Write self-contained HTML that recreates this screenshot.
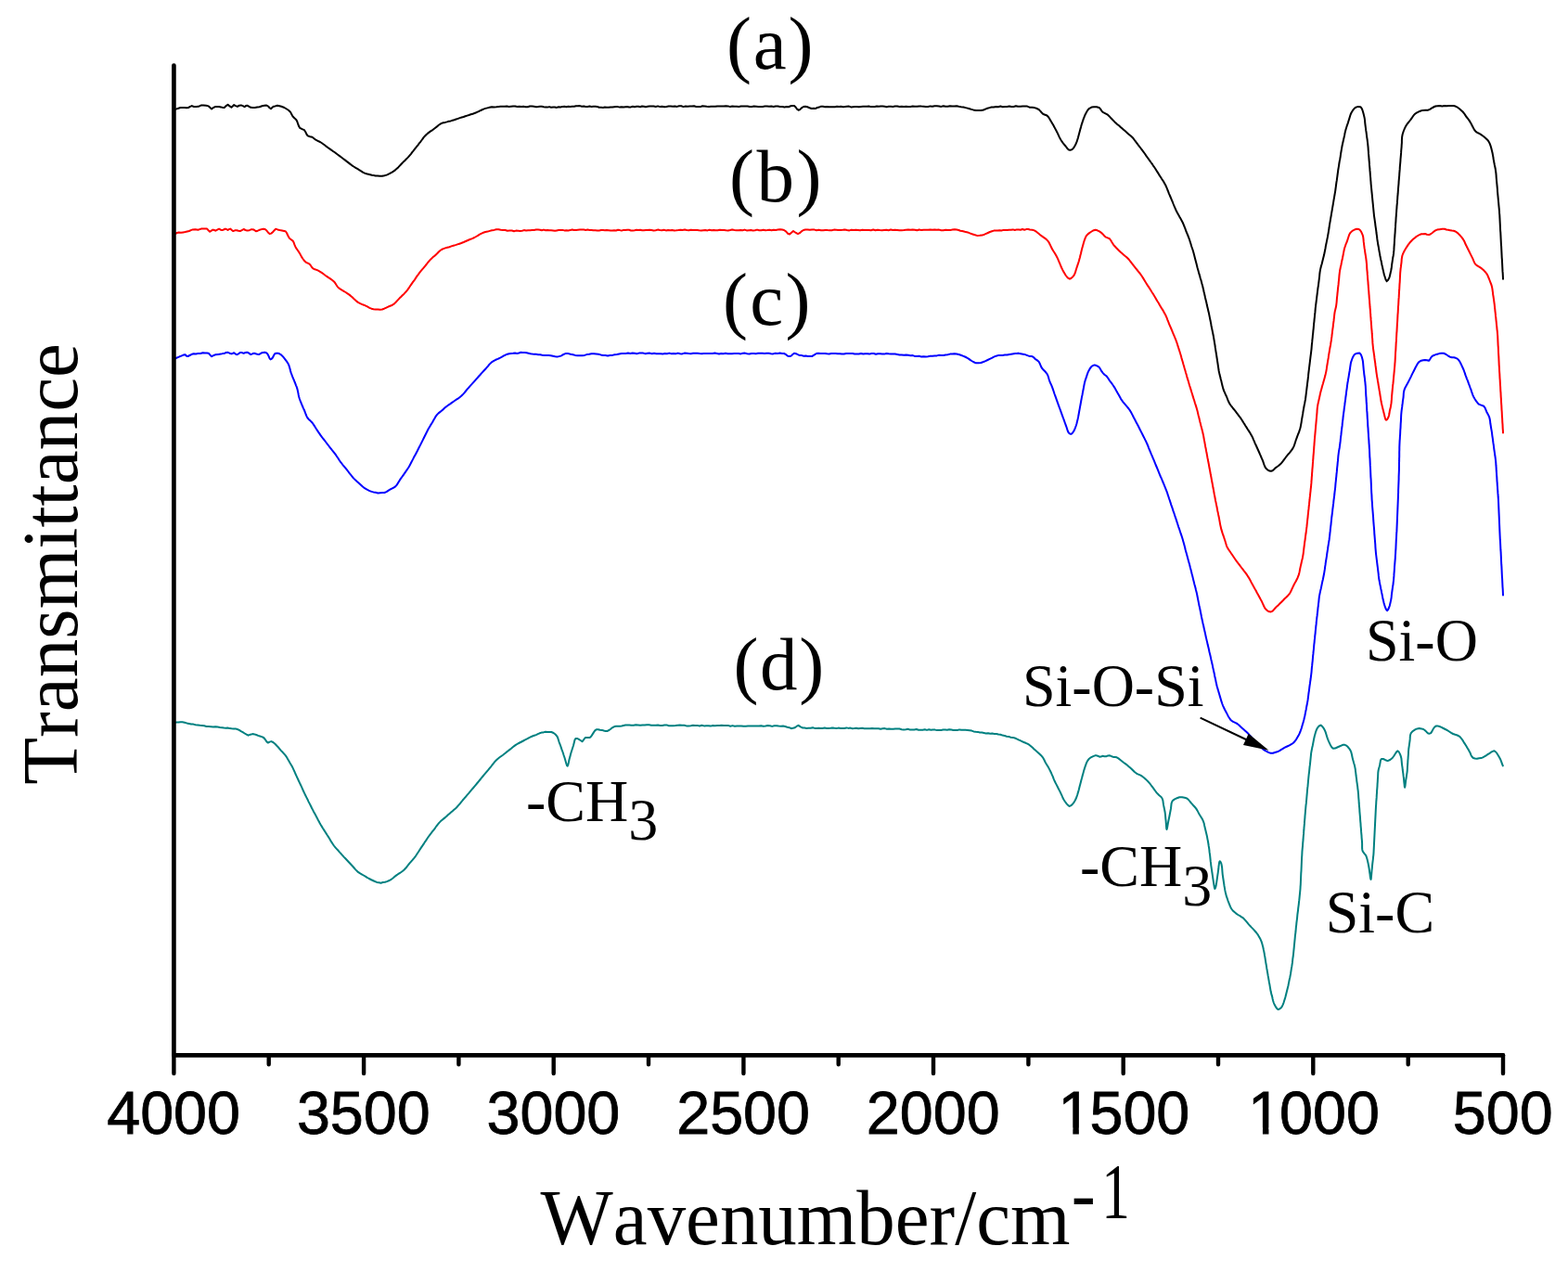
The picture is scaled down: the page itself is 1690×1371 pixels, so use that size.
<!DOCTYPE html>
<html><head><meta charset="utf-8"><title>FTIR spectra</title>
<style>html,body{margin:0;padding:0;background:#fff;}body{width:1690px;height:1371px;overflow:hidden;}svg{display:block;}text{font-kerning:none;}</style>
</head><body>
<svg width="1690" height="1371" viewBox="0 0 1690 1371">
<rect width="1690" height="1371" fill="#fff"/>
<polyline fill="none" stroke="#000" stroke-width="2.0" stroke-linejoin="round" stroke-linecap="round" points="188.3,118.0 190.3,117.4 192.3,116.7 194.5,116.0 196.6,116.0 198.9,116.0 201.1,116.2 203.0,116.0 205.0,114.9 206.8,114.1 209.0,115.0 211.5,115.0 213.9,114.8 216.6,113.6 219.1,113.4 222.1,113.7 224.8,114.4 226.5,116.0 228.1,117.4 229.7,116.2 231.4,115.3 232.8,114.9 234.2,115.1 236.1,115.0 238.0,115.4 239.9,115.9 241.8,115.9 243.7,114.1 245.6,112.7 247.5,114.4 249.4,115.7 250.8,114.4 252.2,113.1 254.0,114.1 256.0,114.9 257.9,113.7 259.8,113.4 261.7,114.2 263.6,115.2 265.0,114.0 266.4,113.7 268.1,114.6 270.2,115.8 272.3,116.0 274.7,116.1 277.3,115.6 279.7,115.3 282.4,114.3 284.9,113.8 287.2,113.5 289.0,114.5 290.6,116.2 292.0,117.3 293.3,116.1 294.8,114.7 296.6,114.4 298.9,113.8 301.2,114.2 303.3,114.8 305.8,115.7 308.1,117.0 310.6,118.5 312.8,120.4 314.2,123.0 315.6,125.6 317.5,127.4 319.4,129.3 320.4,131.3 321.2,133.7 322.1,136.1 323.2,137.9 325.6,139.1 328.0,140.2 329.3,142.2 330.4,144.6 331.7,146.4 334.1,147.2 336.5,147.8 338.4,149.2 340.3,150.7 342.5,151.8 345.0,153.0 346.6,154.0 348.3,155.2 350.1,156.5 351.8,157.9 353.6,159.2 355.3,160.4 357.0,161.6 358.7,162.8 360.5,164.0 362.2,165.3 364.1,166.7 366.0,168.1 367.9,169.5 369.8,171.0 371.7,172.4 373.6,173.9 375.6,175.4 377.5,176.9 379.4,178.3 381.2,179.5 383.3,180.8 385.2,181.9 387.1,183.1 389.1,184.3 391.0,185.6 393.0,186.6 394.9,187.3 396.9,187.7 398.9,188.2 400.8,188.7 402.7,189.1 404.8,189.5 406.9,189.5 409.4,189.8 411.9,189.7 414.4,189.2 416.7,188.6 418.8,187.7 420.7,186.7 422.6,185.6 424.5,184.4 426.2,183.1 427.7,181.8 429.2,180.4 430.6,178.9 431.9,177.5 433.3,176.0 434.7,174.6 436.2,173.2 437.6,171.8 439.0,170.4 440.4,168.9 441.7,167.4 443.0,165.8 444.2,164.2 445.5,162.6 446.7,161.0 448.0,159.4 449.2,157.8 450.5,156.3 451.7,154.7 453.0,153.1 454.2,151.5 455.4,149.9 456.6,148.2 457.9,146.7 459.3,145.2 460.8,143.9 462.5,142.6 464.2,141.4 465.9,140.3 467.6,139.1 469.3,137.7 471.0,136.4 472.6,135.0 474.3,133.8 475.9,132.9 477.9,132.3 479.8,131.9 481.8,131.4 483.7,130.8 485.7,130.4 487.7,129.8 489.6,129.2 491.6,128.5 493.6,127.9 495.6,127.1 497.6,126.5 499.6,126.0 501.5,125.3 503.5,124.6 505.5,124.0 507.5,123.3 509.5,122.7 511.4,122.0 513.4,121.2 515.4,120.3 517.3,119.4 519.2,118.5 521.1,117.6 523.2,116.9 525.3,116.4 527.6,115.8 530.1,115.2 532.6,115.4 535.0,115.3 537.3,115.0 539.5,114.8 541.8,114.7 544.0,114.7 546.2,114.6 548.5,115.1 550.8,114.8 553.0,114.6 555.2,114.5 557.5,115.0 559.8,114.7 562.0,114.9 564.2,114.7 566.5,115.2 568.8,115.3 571.0,114.5 573.3,114.6 575.5,114.7 577.8,115.3 580.0,115.1 582.0,114.8 584.0,114.8 586.0,115.2 588.0,115.4 590.0,115.6 592.0,115.1 594.0,115.7 596.1,115.6 598.1,115.5 600.0,115.9 602.1,115.2 604.2,115.5 606.3,114.9 608.3,114.8 610.4,115.3 612.5,114.7 614.6,115.0 616.7,114.8 618.8,114.8 620.8,114.3 622.9,114.2 625.0,114.1 627.1,114.7 629.2,114.5 631.3,115.0 633.3,115.0 635.4,114.6 637.5,115.0 639.6,114.7 641.7,114.8 643.7,115.0 645.8,115.7 647.9,115.8 650.0,115.9 651.9,115.5 653.9,115.7 656.0,115.8 658.0,115.4 660.0,115.5 662.0,115.2 664.0,115.0 666.0,115.1 668.0,115.6 670.0,115.3 672.0,115.6 674.0,115.2 676.0,115.0 678.0,115.4 680.0,115.4 682.0,114.7 684.0,115.2 686.0,114.7 688.0,114.7 690.0,115.3 692.0,114.5 694.0,114.7 696.0,115.3 698.0,114.8 700.0,114.5 702.2,114.5 704.5,114.5 706.8,115.0 709.1,114.4 711.4,115.1 713.7,114.7 716.0,115.2 718.3,115.1 720.6,114.6 722.9,114.5 725.1,114.7 727.4,114.4 729.7,114.9 732.0,114.3 734.3,114.3 736.6,115.1 738.9,114.5 741.1,114.8 743.4,114.6 745.7,114.5 748.0,114.3 750.3,115.0 752.6,115.1 754.9,115.1 757.1,114.3 759.4,114.4 761.7,114.8 764.0,115.1 766.3,114.7 768.6,114.8 770.9,114.8 773.1,114.4 775.4,114.6 777.7,114.4 780.0,114.4 782.3,114.2 784.7,114.4 787.0,115.1 789.3,114.6 791.7,114.8 794.0,114.8 796.3,115.1 798.7,114.6 801.0,114.5 803.3,114.6 805.7,114.6 808.0,115.1 810.3,115.1 812.7,114.6 815.0,114.7 817.3,114.9 819.7,114.9 822.0,114.9 824.3,114.6 826.7,114.4 829.0,114.7 831.3,114.5 833.7,115.0 836.0,114.5 838.3,114.6 840.7,115.1 843.2,114.9 845.6,115.4 847.9,115.1 850.0,115.2 852.2,114.3 854.2,114.0 856.0,114.0 857.6,115.5 859.1,117.7 860.6,118.7 862.2,118.1 864.0,116.3 866.0,115.0 867.9,114.8 870.2,115.3 872.5,116.2 874.8,117.0 877.0,116.8 879.1,116.9 881.0,116.0 882.9,115.6 885.0,114.7 887.0,114.7 889.2,115.2 891.3,115.1 893.5,115.3 895.7,115.3 897.9,115.2 900.0,115.2 902.1,114.7 904.3,114.9 906.4,114.7 908.6,115.2 910.7,115.1 912.9,114.7 915.0,114.6 917.1,115.4 919.3,115.2 921.4,115.0 923.6,115.0 925.7,115.3 927.9,114.9 930.0,114.8 932.1,114.8 934.3,114.7 936.4,114.5 938.6,115.1 940.7,114.9 942.9,115.0 945.0,114.5 947.1,114.8 949.3,114.6 951.4,114.6 953.5,114.7 955.7,115.2 957.8,114.8 960.0,114.8 962.3,115.0 964.7,114.6 967.1,114.4 969.5,114.9 971.8,114.8 974.2,114.9 976.6,114.7 978.9,114.9 981.3,115.0 983.7,114.5 986.0,114.7 988.4,114.7 990.8,114.4 993.1,114.6 995.5,114.7 997.9,115.0 1000.2,115.0 1002.6,114.4 1005.0,114.7 1007.3,114.2 1009.7,114.2 1012.1,114.5 1014.4,114.9 1016.8,114.2 1019.2,114.7 1021.5,114.8 1023.9,114.2 1026.3,114.4 1028.6,114.6 1031.0,114.3 1033.4,114.8 1035.9,115.2 1038.4,115.5 1040.7,116.1 1042.8,116.6 1045.0,117.3 1047.0,117.9 1049.0,118.4 1051.9,118.9 1054.7,119.1 1057.3,119.1 1060.0,118.5 1062.0,117.6 1064.2,116.8 1066.5,116.1 1068.6,115.5 1071.0,115.4 1073.5,114.9 1076.0,115.2 1078.3,114.5 1080.7,115.2 1083.1,115.0 1085.4,114.9 1087.8,114.5 1090.1,115.0 1092.5,115.0 1094.9,114.3 1097.2,114.8 1099.7,114.7 1102.3,114.5 1104.7,114.4 1106.7,114.4 1108.4,115.1 1110.0,115.7 1112.3,115.7 1114.8,116.1 1117.2,116.8 1119.6,118.0 1121.2,119.6 1122.8,121.5 1124.4,123.0 1126.4,123.7 1128.4,124.5 1129.6,125.7 1130.8,127.3 1131.9,129.2 1133.0,131.1 1134.1,132.9 1135.1,134.6 1136.1,136.4 1137.0,138.1 1138.0,139.9 1138.9,141.7 1139.9,143.6 1140.8,145.6 1141.7,147.6 1142.7,149.5 1143.7,151.3 1145.3,153.6 1146.9,155.6 1148.5,157.5 1150.3,159.9 1152.0,161.5 1153.3,161.8 1154.5,161.6 1155.5,161.0 1156.5,160.2 1157.5,158.9 1158.6,157.1 1159.6,155.0 1160.5,152.9 1161.2,150.8 1161.9,148.6 1162.5,146.3 1163.1,144.0 1163.7,141.7 1164.3,139.4 1165.0,137.1 1165.6,134.8 1166.3,132.6 1167.0,130.5 1167.7,128.4 1168.5,126.3 1169.3,124.3 1170.2,122.5 1171.4,120.3 1172.7,118.3 1174.2,116.8 1176.5,115.6 1179.0,115.2 1181.9,115.2 1184.6,116.0 1186.0,117.4 1187.2,119.3 1188.6,120.9 1191.0,122.1 1193.4,123.3 1195.5,125.2 1197.4,127.3 1199.9,129.9 1201.4,131.4 1201.4,131.4 1201.4,131.4 1202.3,132.2 1204.2,133.9 1206.2,135.6 1207.7,136.9 1209.3,138.3 1210.9,139.7 1212.5,141.1 1214.1,142.5 1215.7,143.9 1217.2,145.2 1218.8,146.5 1220.4,148.0 1221.9,149.7 1223.3,151.7 1224.8,153.7 1226.3,155.7 1227.8,157.6 1229.3,159.5 1230.7,161.4 1232.2,163.4 1233.4,165.0 1234.6,166.7 1235.7,168.4 1236.9,170.0 1238.1,171.7 1239.3,173.3 1240.5,175.0 1241.7,176.6 1242.8,178.3 1244.0,180.0 1245.2,181.8 1246.4,183.7 1247.6,185.6 1248.8,187.5 1249.9,189.4 1251.2,191.3 1252.4,193.2 1253.7,195.1 1254.8,197.0 1255.9,198.9 1256.8,200.8 1257.6,202.6 1258.3,204.5 1259.1,206.4 1259.8,208.3 1260.6,210.1 1261.4,212.0 1262.2,213.9 1263.0,215.8 1263.8,217.6 1264.5,219.5 1265.3,221.5 1266.1,223.4 1266.9,225.2 1267.7,227.0 1268.9,229.3 1270.1,231.4 1271.2,233.5 1272.4,235.6 1273.6,237.7 1274.8,240.0 1275.7,242.1 1276.6,244.4 1277.5,246.7 1278.3,249.0 1279.3,251.3 1280.2,253.5 1281.1,255.8 1281.9,258.0 1282.7,260.5 1283.5,263.0 1284.2,265.5 1285.1,268.0 1285.9,270.5 1286.6,273.0 1287.2,275.3 1287.8,277.7 1288.4,280.0 1289.0,282.3 1289.6,284.6 1290.2,287.0 1290.7,289.0 1291.3,291.1 1291.9,293.2 1292.5,295.4 1293.2,297.6 1293.7,299.7 1294.4,301.8 1295.0,303.9 1295.5,306.0 1296.1,308.1 1296.6,310.2 1297.1,312.2 1297.5,314.3 1298.0,316.3 1298.5,318.4 1298.9,320.4 1299.4,322.5 1299.9,324.5 1300.4,326.6 1300.8,328.6 1301.3,330.7 1301.8,332.8 1302.3,334.9 1302.8,336.9 1303.2,338.9 1303.6,340.9 1304.0,342.9 1304.4,344.8 1304.8,346.8 1305.2,348.7 1305.5,350.7 1305.9,352.7 1306.3,354.6 1306.7,356.6 1307.1,358.5 1307.5,360.5 1307.9,362.5 1308.3,364.9 1308.7,367.3 1309.1,369.8 1309.5,372.2 1309.8,374.7 1310.2,377.1 1310.6,379.6 1311.0,382.0 1311.3,384.0 1311.6,386.0 1311.9,388.0 1312.2,390.0 1312.5,391.9 1312.8,394.0 1313.1,396.0 1313.4,398.0 1313.7,400.0 1314.1,401.9 1314.6,404.1 1315.2,406.3 1315.7,408.5 1316.3,410.6 1316.8,412.9 1317.3,415.1 1317.9,417.3 1318.5,419.4 1319.2,421.4 1320.1,423.3 1320.9,425.2 1321.8,427.0 1322.6,429.0 1323.3,430.9 1324.1,432.8 1325.1,434.7 1326.2,436.5 1327.5,438.2 1328.9,440.0 1330.3,441.7 1331.7,443.4 1333.0,445.2 1334.3,446.9 1335.6,448.7 1337.0,450.4 1338.2,452.2 1339.3,453.9 1340.4,455.7 1341.5,457.4 1342.6,459.2 1343.7,460.9 1344.8,462.7 1345.9,464.4 1347.0,466.1 1348.1,467.9 1349.1,469.7 1350.1,471.6 1350.9,473.6 1351.8,475.6 1352.6,477.6 1353.5,479.5 1354.4,481.5 1355.3,483.5 1356.2,485.5 1357.1,487.5 1357.9,489.4 1358.8,491.4 1359.6,493.3 1360.4,495.2 1361.2,497.0 1361.9,499.1 1362.6,501.1 1363.4,503.1 1364.4,504.7 1366.1,506.3 1368.0,507.5 1369.9,507.8 1371.6,507.2 1373.3,505.7 1375.0,504.1 1376.6,503.0 1378.3,501.8 1380.0,500.3 1381.3,498.8 1382.7,497.1 1384.0,495.3 1385.4,493.5 1386.8,491.7 1388.1,490.0 1389.6,488.4 1391.0,486.7 1392.3,484.9 1393.5,483.1 1394.5,481.1 1395.3,478.9 1396.0,476.7 1396.7,474.5 1397.5,472.3 1398.3,470.1 1399.1,468.0 1400.0,465.9 1400.7,463.7 1401.4,461.5 1401.9,459.3 1402.3,457.1 1402.7,454.8 1403.0,452.6 1403.4,450.3 1403.8,448.1 1404.2,445.9 1404.5,443.6 1404.9,441.4 1405.3,439.2 1405.7,436.9 1406.2,434.7 1406.6,432.4 1407.0,430.2 1407.3,428.0 1407.6,425.5 1407.9,423.0 1408.2,420.6 1408.5,418.2 1408.8,415.7 1409.1,413.2 1409.4,410.8 1409.7,408.3 1410.0,405.9 1410.2,403.4 1410.5,400.9 1410.8,398.5 1411.1,396.0 1411.4,393.6 1411.7,391.1 1412.0,388.6 1412.3,386.2 1412.6,383.7 1412.9,381.3 1413.2,378.8 1413.5,376.3 1413.7,373.9 1413.9,371.4 1414.2,368.9 1414.4,366.5 1414.7,364.0 1414.9,361.5 1415.2,359.1 1415.4,356.6 1415.7,354.1 1415.9,351.7 1416.1,349.2 1416.4,346.8 1416.6,344.3 1416.9,341.8 1417.1,339.4 1417.4,336.9 1417.6,334.4 1417.8,332.0 1418.1,329.5 1418.4,327.1 1418.7,324.7 1419.0,322.3 1419.3,319.9 1419.6,317.4 1419.9,315.0 1420.2,312.6 1420.5,310.2 1420.9,307.8 1421.2,305.4 1421.5,303.0 1421.8,300.5 1422.1,298.1 1422.3,295.7 1422.6,293.2 1423.0,290.9 1423.4,288.9 1423.9,286.9 1424.5,285.0 1425.0,283.0 1425.5,281.0 1426.0,279.1 1426.5,277.1 1427.0,275.1 1427.4,273.2 1427.8,271.2 1428.2,269.2 1428.6,267.2 1428.9,265.2 1429.3,263.3 1429.7,261.4 1430.1,259.4 1430.5,257.4 1430.9,255.4 1431.3,253.1 1431.7,250.8 1432.1,248.4 1432.5,246.0 1432.8,243.6 1433.2,241.2 1433.6,238.9 1434.0,236.5 1434.4,234.2 1434.8,231.8 1435.2,229.4 1435.6,227.1 1436.0,224.7 1436.4,222.4 1436.8,220.0 1437.2,217.6 1437.6,215.2 1438.0,212.8 1438.4,210.5 1438.8,208.2 1439.2,205.8 1439.5,203.5 1439.8,201.3 1440.1,199.0 1440.4,196.7 1440.8,194.4 1441.1,192.1 1441.4,189.8 1441.7,187.5 1442.0,185.3 1442.3,183.0 1442.7,180.6 1443.1,178.3 1443.4,176.0 1443.8,173.6 1444.3,171.2 1444.7,168.8 1445.0,166.4 1445.4,164.0 1445.8,161.6 1446.2,159.3 1446.6,157.0 1447.1,154.7 1447.6,152.5 1448.1,150.3 1448.6,148.1 1449.1,145.9 1449.5,143.6 1450.0,141.4 1450.6,139.2 1451.3,137.0 1452.0,134.8 1452.8,132.6 1453.5,130.3 1454.2,128.1 1454.9,125.8 1455.6,123.5 1456.5,121.5 1457.9,119.2 1459.6,117.0 1461.4,115.6 1463.9,114.9 1466.3,115.2 1467.4,116.4 1468.3,118.3 1469.1,120.7 1469.7,123.1 1470.3,125.4 1470.8,127.9 1471.1,130.3 1471.3,132.8 1471.6,135.3 1471.9,137.7 1472.2,140.2 1472.6,142.7 1472.9,145.1 1473.2,147.6 1473.6,150.1 1473.9,152.6 1474.2,155.0 1474.4,157.1 1474.6,159.2 1474.7,161.3 1474.9,163.3 1475.0,165.4 1475.2,167.5 1475.4,169.6 1475.5,171.7 1475.7,173.7 1475.9,175.8 1476.0,177.9 1476.2,180.0 1476.4,181.9 1476.5,183.9 1476.7,186.0 1476.8,188.0 1477.0,190.0 1477.2,192.0 1477.3,194.0 1477.5,196.0 1477.6,198.0 1477.8,200.0 1478.0,202.0 1478.2,204.1 1478.4,206.1 1478.6,208.2 1478.8,210.2 1479.0,212.2 1479.2,214.3 1479.4,216.3 1479.6,218.4 1479.8,220.4 1480.0,222.4 1480.2,224.5 1480.4,226.5 1480.6,228.6 1480.8,230.6 1481.0,232.6 1481.3,234.7 1481.6,236.7 1481.9,238.8 1482.2,240.8 1482.4,242.8 1482.7,244.9 1483.0,246.9 1483.3,249.0 1483.5,251.0 1483.8,253.1 1484.1,255.2 1484.3,257.2 1484.6,259.3 1484.9,261.2 1485.3,263.8 1485.8,266.2 1486.2,268.6 1486.6,271.1 1487.1,273.6 1487.5,276.0 1487.9,278.0 1488.3,280.0 1488.8,281.9 1489.1,283.8 1489.5,285.7 1490.0,287.8 1490.4,289.7 1490.9,291.9 1491.4,294.1 1491.9,296.2 1492.5,298.0 1493.5,301.3 1494.7,303.1 1495.9,302.1 1497.0,300.0 1497.7,298.3 1498.2,296.2 1498.7,294.0 1499.2,291.8 1499.6,289.8 1499.9,287.8 1500.1,285.7 1500.4,283.7 1500.7,281.6 1501.0,279.6 1501.3,277.5 1501.7,275.5 1502.0,273.4 1502.2,271.4 1502.4,269.4 1502.5,267.3 1502.6,265.3 1502.8,263.2 1502.9,261.2 1503.0,259.2 1503.1,257.1 1503.3,255.1 1503.4,253.0 1503.6,251.0 1503.7,249.0 1503.8,246.9 1504.0,244.9 1504.1,242.8 1504.2,240.8 1504.4,238.8 1504.5,236.7 1504.6,234.7 1504.8,232.6 1504.9,230.6 1505.1,228.6 1505.2,226.5 1505.4,224.5 1505.5,222.4 1505.7,220.4 1505.9,218.4 1506.0,216.3 1506.2,214.3 1506.3,212.2 1506.5,210.2 1506.7,208.2 1506.8,206.1 1507.0,204.1 1507.1,202.1 1507.3,200.0 1507.5,197.8 1507.6,195.6 1507.8,193.4 1508.0,191.2 1508.2,189.0 1508.3,186.8 1508.5,184.6 1508.7,182.4 1508.8,180.2 1509.0,178.0 1509.2,175.8 1509.4,173.6 1509.5,171.5 1509.7,169.3 1509.9,167.1 1510.1,164.9 1510.2,162.7 1510.4,160.5 1510.6,158.3 1510.7,156.1 1510.9,153.9 1510.9,151.6 1511.0,149.4 1511.2,147.2 1511.6,145.1 1512.2,143.0 1512.9,141.0 1513.7,139.0 1514.6,137.1 1515.6,135.3 1516.7,133.6 1518.0,132.0 1519.2,130.5 1520.5,128.9 1521.7,127.2 1522.8,125.5 1524.0,123.9 1525.4,122.5 1527.2,121.3 1529.2,120.4 1531.3,119.5 1533.3,118.9 1536.3,118.8 1539.2,118.7 1541.1,117.8 1543.0,116.6 1545.0,115.5 1547.1,114.5 1549.4,114.2 1551.8,113.9 1554.4,114.4 1556.9,113.9 1559.2,114.2 1561.7,114.0 1564.2,114.1 1566.5,114.1 1568.7,114.6 1570.9,115.7 1573.0,117.2 1574.9,118.9 1576.6,120.5 1578.1,122.3 1579.3,124.1 1580.5,126.0 1581.9,127.7 1583.2,129.4 1584.5,131.4 1585.6,133.3 1586.7,135.5 1587.9,137.8 1589.1,139.9 1590.4,141.6 1592.3,143.0 1594.3,143.9 1596.3,145.1 1597.9,146.2 1599.6,147.5 1601.3,148.9 1602.9,150.4 1604.2,152.0 1605.3,153.9 1606.2,156.1 1606.9,158.3 1607.5,160.6 1608.1,162.9 1608.6,165.0 1609.0,167.2 1609.4,169.4 1609.7,171.5 1610.1,173.7 1610.5,175.9 1610.9,178.0 1611.4,180.2 1611.8,182.3 1612.1,184.5 1612.4,186.7 1612.6,188.8 1612.7,191.0 1612.9,193.2 1613.1,195.3 1613.3,197.5 1613.5,199.7 1613.7,201.8 1613.9,204.0 1614.0,206.2 1614.2,208.3 1614.4,210.5 1614.6,212.6 1614.8,214.8 1615.0,217.0 1615.2,219.1 1615.4,221.3 1615.6,223.5 1615.8,225.6 1616.0,227.8 1616.1,229.9 1616.3,232.0 1616.4,234.1 1616.5,236.1 1616.6,238.2 1616.7,240.3 1616.8,242.4 1616.9,244.5 1617.0,246.5 1617.1,248.6 1617.3,250.7 1617.4,252.8 1617.5,254.9 1617.6,257.0 1617.7,259.0 1617.8,261.1 1617.9,263.2 1618.1,265.3 1618.2,267.4 1618.3,269.5 1618.4,271.5 1618.5,273.6 1618.6,275.7 1618.7,277.8 1618.9,279.9 1619.0,282.0 1619.1,284.0 1619.2,286.1 1619.3,288.2 1619.4,290.3 1619.5,292.4 1619.7,294.5 1619.8,296.5 1619.9,298.6 1620.0,300.7"/>
<polyline fill="none" stroke="#f00" stroke-width="2.0" stroke-linejoin="round" stroke-linecap="round" points="187.8,252.5 189.2,251.8 190.7,251.0 192.7,250.5 195.0,250.8 197.3,250.4 199.6,250.0 201.8,249.5 203.9,249.0 205.8,248.1 207.7,247.4 210.5,247.3 213.4,247.8 215.3,247.1 217.2,246.5 220.1,246.4 222.9,246.4 224.6,248.2 226.2,249.7 227.8,248.6 229.5,247.6 230.9,248.0 232.3,248.7 234.2,247.6 236.1,246.7 237.8,247.7 239.4,248.1 241.1,247.5 242.8,246.6 244.2,247.1 245.6,248.0 247.0,247.0 248.4,246.6 249.8,248.0 251.3,249.1 253.2,248.3 255.1,248.2 257.0,248.7 258.8,249.1 260.7,248.1 262.6,247.0 264.5,248.0 266.4,248.6 268.8,248.2 271.2,247.2 273.6,247.6 275.9,249.2 277.8,248.7 279.7,247.8 282.1,247.1 284.4,246.8 285.9,247.3 287.2,248.3 288.9,250.4 290.6,252.0 292.3,251.6 293.9,250.3 295.5,248.4 297.2,246.8 299.2,247.4 301.4,247.9 303.9,248.4 306.2,248.9 307.2,249.2 308.1,249.7 309.0,251.0 309.9,253.0 310.9,255.1 311.9,256.8 313.8,258.2 315.6,259.6 316.7,261.6 317.5,263.9 318.5,266.2 319.7,268.1 321.0,270.0 322.3,271.9 323.6,274.1 324.8,276.4 326.1,278.5 327.9,280.9 329.9,282.8 331.8,283.7 333.6,284.7 334.9,286.2 336.1,288.0 337.4,289.4 339.3,290.3 341.2,290.9 343.0,291.7 345.0,292.8 346.7,293.9 348.6,295.3 350.5,296.7 352.5,298.1 354.4,299.4 356.3,300.6 358.2,302.0 359.9,303.4 361.2,305.0 362.3,306.8 363.4,308.5 364.6,310.0 366.5,311.4 368.5,312.6 370.5,313.8 372.5,315.0 374.5,316.3 376.4,317.6 378.0,318.9 379.6,320.3 381.1,321.8 382.7,323.2 384.2,324.6 385.9,325.9 387.8,326.9 389.9,327.9 392.1,328.7 394.2,329.6 396.3,330.7 398.3,331.8 400.4,332.7 402.5,333.3 404.8,333.6 407.3,333.4 409.7,333.7 411.9,333.5 414.0,332.7 415.9,331.8 417.9,330.8 419.8,330.0 421.8,329.3 423.8,328.2 425.2,327.1 426.7,325.7 428.1,324.1 429.5,322.6 430.9,321.1 432.4,319.7 433.8,318.3 435.3,316.9 436.7,315.4 438.0,314.0 439.3,312.3 440.5,310.7 441.6,309.0 442.7,307.3 443.9,305.6 445.1,303.9 446.3,302.3 447.5,300.6 448.6,298.9 449.8,297.2 451.0,295.6 452.2,293.9 453.6,292.1 455.1,290.3 456.6,288.6 458.1,286.8 459.6,285.0 461.0,283.2 462.5,281.4 464.0,279.7 465.5,278.3 466.9,276.9 468.5,275.7 469.9,274.4 471.4,273.0 472.8,271.5 474.2,270.2 475.9,269.0 477.8,268.1 479.9,267.4 482.1,266.7 484.4,266.2 486.5,265.4 488.7,264.7 490.9,264.1 493.1,263.4 495.2,262.7 497.2,262.0 499.7,261.0 502.0,260.0 504.3,259.0 506.6,258.0 509.0,257.1 511.4,256.0 513.2,255.0 515.1,253.9 517.0,252.7 519.0,251.7 520.8,250.8 523.2,250.0 525.6,249.6 527.9,248.9 530.2,248.2 532.5,247.9 535.0,247.2 537.3,247.3 539.7,247.8 542.1,247.9 544.5,248.0 546.9,248.7 549.3,248.6 551.7,248.5 554.0,249.2 556.2,248.6 558.4,248.7 560.5,249.0 562.7,248.7 564.8,248.1 567.0,248.4 569.2,248.2 571.3,248.2 573.5,247.9 575.6,248.0 577.8,247.5 580.0,247.6 582.0,247.7 583.9,248.2 586.0,247.6 588.0,248.3 590.0,247.9 592.0,248.3 594.0,248.2 596.1,248.4 598.1,248.7 600.0,248.4 602.1,248.1 604.2,248.1 606.3,247.9 608.3,248.4 610.4,248.2 612.5,248.4 614.6,248.1 616.7,247.5 618.7,247.9 620.8,247.9 622.9,247.7 625.0,247.5 627.1,247.4 629.2,247.6 631.2,247.9 633.3,247.6 635.4,247.9 637.5,247.9 639.6,248.3 641.7,248.3 643.7,248.5 645.8,248.5 647.9,248.1 650.0,248.1 651.9,248.3 653.9,248.1 656.0,248.2 658.0,248.4 660.0,248.6 662.0,248.3 664.0,248.5 666.0,247.8 668.0,248.1 670.0,248.6 672.0,247.9 674.0,248.1 676.0,247.8 678.0,247.8 680.0,248.5 682.0,248.5 684.0,248.2 686.0,247.8 688.0,247.9 690.0,247.8 692.0,248.2 694.0,248.2 696.0,248.0 698.0,248.0 700.0,247.7 702.2,248.0 704.4,248.4 706.7,248.2 708.9,247.6 711.2,248.0 713.4,248.2 715.6,247.8 717.8,248.4 720.1,248.0 722.3,248.2 724.5,247.9 726.8,248.4 729.0,248.3 731.2,248.1 733.5,247.7 735.7,247.9 737.9,247.6 740.2,248.1 742.4,248.3 744.6,247.7 746.8,248.0 749.1,248.0 751.3,247.9 753.5,248.2 755.8,248.4 758.0,248.2 760.2,248.0 762.5,248.4 764.7,247.8 766.9,248.2 769.2,248.1 771.4,248.2 773.6,248.3 775.8,247.8 778.1,248.1 780.3,247.9 782.5,248.2 784.8,248.4 787.0,248.1 789.2,247.6 791.5,248.0 793.7,248.2 795.9,248.3 798.2,248.1 800.4,248.3 802.6,247.6 804.8,248.4 807.1,248.2 809.3,248.1 811.5,248.4 813.8,248.3 816.0,247.6 818.2,248.3 820.5,248.2 822.7,247.7 824.9,248.2 827.2,248.1 829.4,247.7 831.6,248.3 833.8,247.7 836.1,248.0 838.5,247.6 840.8,247.3 843.0,247.6 845.0,248.0 847.3,249.6 849.2,251.8 851.0,252.5 853.0,250.7 855.0,249.0 857.4,250.7 860.0,252.1 861.9,251.2 863.8,249.4 866.0,248.0 868.1,247.6 870.4,247.4 872.8,247.7 875.3,247.5 877.8,247.6 880.1,248.2 882.5,247.7 884.8,248.2 887.2,248.2 889.5,247.9 891.9,248.1 894.2,248.2 896.5,248.3 898.9,247.6 901.2,247.7 903.6,247.9 906.0,247.9 908.3,247.8 910.6,247.5 913.0,248.0 915.4,248.4 917.7,247.8 920.1,248.0 922.4,247.8 924.8,247.9 927.1,248.3 929.4,247.8 931.8,248.1 934.2,247.9 936.5,248.0 938.8,248.3 941.2,247.5 943.6,248.2 945.9,247.7 948.2,248.0 950.6,248.2 952.9,248.0 955.3,247.8 957.6,248.2 960.0,247.5 962.4,248.0 964.7,247.8 967.1,247.9 969.5,248.2 971.8,248.2 974.2,248.0 976.6,247.7 978.9,247.6 981.3,247.8 983.7,247.6 986.0,247.7 988.4,248.3 990.8,247.5 993.1,248.1 995.5,247.7 997.9,247.7 1000.2,247.7 1002.6,247.5 1005.0,247.8 1007.3,247.5 1009.7,247.8 1012.1,247.6 1014.4,248.2 1016.8,248.2 1019.2,247.8 1021.6,247.9 1024.1,248.1 1026.6,247.5 1028.9,247.3 1031.0,247.6 1033.2,248.0 1035.1,248.7 1037.0,249.1 1039.0,249.5 1041.0,250.1 1043.0,250.4 1045.3,251.4 1047.7,252.3 1050.0,253.0 1053.0,253.9 1055.9,253.8 1058.4,253.6 1061.0,252.7 1062.8,251.9 1064.8,251.0 1066.9,250.0 1069.1,249.2 1071.2,248.6 1073.2,248.4 1075.3,248.4 1077.3,248.3 1079.4,248.5 1081.5,247.9 1083.5,248.1 1085.6,248.1 1087.6,247.8 1089.7,247.7 1091.7,247.4 1093.8,248.0 1095.9,247.4 1098.0,247.4 1100.0,247.7 1102.0,247.0 1104.1,247.7 1106.2,247.1 1108.2,247.1 1110.0,247.5 1112.5,247.8 1114.8,248.4 1116.4,249.3 1117.9,250.5 1119.5,251.8 1121.2,253.2 1122.8,254.4 1124.5,255.6 1126.3,256.8 1127.9,258.1 1129.3,259.6 1130.5,261.2 1131.4,263.0 1132.3,264.9 1133.2,266.7 1134.1,268.5 1135.3,270.5 1136.6,272.5 1137.8,274.5 1138.9,276.5 1140.1,278.9 1141.1,281.3 1142.1,283.7 1143.1,286.1 1144.1,288.5 1145.3,290.9 1146.4,292.9 1147.6,295.0 1148.8,297.0 1150.0,298.5 1151.5,299.9 1153.0,300.7 1154.3,300.0 1155.5,299.0 1156.9,297.6 1158.1,295.7 1159.0,293.5 1159.7,291.0 1160.5,288.5 1161.3,286.1 1162.1,283.7 1162.9,281.3 1163.4,279.3 1164.0,277.3 1164.4,275.3 1165.0,273.2 1165.4,271.3 1165.9,269.3 1166.4,267.3 1167.0,265.2 1167.6,263.0 1168.3,260.5 1169.1,258.1 1170.0,255.8 1171.0,254.0 1172.5,252.4 1174.1,251.1 1175.8,250.0 1178.1,248.5 1180.6,247.7 1182.7,248.3 1184.9,249.4 1187.0,250.8 1188.7,252.4 1190.2,254.2 1191.8,255.6 1193.8,256.4 1195.8,257.2 1197.2,259.0 1198.5,261.3 1200.0,263.6 1201.4,265.3 1203.0,267.0 1204.7,268.7 1206.2,270.2 1207.8,271.7 1209.3,273.0 1210.9,274.4 1212.4,275.7 1214.0,277.0 1215.6,278.5 1217.0,280.0 1218.4,281.8 1219.8,283.7 1221.3,285.6 1222.7,287.4 1224.1,289.2 1225.6,291.0 1227.1,292.8 1228.5,294.5 1229.8,296.3 1231.1,298.2 1232.3,300.1 1233.4,301.9 1234.5,303.8 1235.7,305.7 1236.9,307.6 1238.1,309.4 1239.3,311.3 1240.4,313.1 1241.6,315.0 1242.8,316.8 1244.0,318.8 1245.2,320.7 1246.3,322.7 1247.5,324.8 1248.8,326.8 1250.0,328.9 1251.2,330.9 1252.4,332.9 1253.7,334.9 1254.8,336.9 1255.9,338.9 1256.8,340.8 1257.6,342.7 1258.3,344.6 1259.1,346.5 1259.8,348.4 1260.6,350.3 1261.4,352.2 1262.2,354.0 1263.0,355.9 1263.8,357.8 1264.6,359.8 1265.4,361.7 1266.2,363.7 1267.0,365.5 1267.7,367.3 1268.4,369.3 1269.0,371.2 1269.6,373.1 1270.2,375.0 1270.8,376.9 1271.5,379.0 1272.1,381.0 1272.8,383.2 1273.4,385.6 1274.1,388.0 1274.8,390.3 1275.4,392.5 1276.1,394.8 1276.7,397.0 1277.4,399.3 1278.0,401.5 1278.7,403.8 1279.3,406.1 1280.0,408.4 1280.7,410.6 1281.3,412.8 1282.0,415.2 1282.8,417.6 1283.5,419.9 1284.2,422.3 1285.0,424.7 1285.7,427.1 1286.4,429.4 1287.2,431.8 1287.9,434.2 1288.7,436.6 1289.4,438.9 1290.1,441.3 1290.7,443.5 1291.2,445.7 1291.7,447.9 1292.3,450.0 1292.8,452.2 1293.3,454.4 1293.9,456.6 1294.4,458.8 1295.0,460.9 1295.5,463.1 1296.1,465.2 1296.6,467.5 1297.1,469.7 1297.5,472.0 1297.9,474.4 1298.4,476.8 1298.8,479.2 1299.2,481.5 1299.7,483.8 1300.1,486.2 1300.6,488.5 1301.0,490.8 1301.4,493.2 1301.9,495.5 1302.3,497.8 1302.8,500.2 1303.2,502.5 1303.6,504.8 1304.1,507.2 1304.5,509.5 1304.9,511.8 1305.4,514.2 1305.8,516.5 1306.2,518.8 1306.7,521.2 1307.1,523.5 1307.5,525.8 1308.0,528.2 1308.4,530.5 1308.8,532.9 1309.3,535.2 1309.7,537.5 1310.1,539.7 1310.6,541.9 1311.0,544.1 1311.5,546.3 1311.9,548.5 1312.3,550.7 1312.8,552.9 1313.2,555.0 1313.7,557.2 1314.1,559.4 1314.5,561.6 1314.9,563.9 1315.3,566.1 1315.8,568.3 1316.3,570.4 1316.9,572.4 1317.5,574.4 1318.2,576.3 1318.9,578.3 1319.5,580.2 1320.2,582.3 1320.8,584.3 1321.4,586.3 1322.0,588.3 1322.8,590.1 1324.2,592.4 1325.7,594.5 1327.2,596.7 1328.6,598.8 1330.1,601.0 1331.6,603.2 1332.8,604.9 1334.1,606.6 1335.5,608.4 1336.8,610.2 1338.2,612.0 1339.5,613.7 1340.8,615.4 1342.2,617.1 1343.5,618.9 1344.7,620.7 1345.9,622.6 1347.0,624.6 1348.1,626.6 1349.1,628.6 1350.2,630.5 1351.3,632.5 1352.4,634.5 1353.6,636.5 1354.6,638.5 1355.7,640.4 1356.8,642.5 1357.9,644.5 1359.0,646.6 1360.1,648.6 1361.1,650.8 1362.1,653.0 1363.1,655.1 1364.4,656.8 1366.1,658.3 1368.1,659.3 1369.9,659.4 1371.6,658.6 1373.2,656.8 1374.8,655.0 1376.4,653.4 1378.1,651.9 1379.7,650.3 1381.3,648.7 1383.0,647.0 1384.6,645.3 1386.3,643.8 1387.9,642.2 1389.5,640.4 1390.6,638.7 1391.6,636.8 1392.5,634.7 1393.5,632.6 1394.5,630.5 1395.5,628.6 1396.6,626.7 1397.6,624.7 1398.6,622.7 1399.4,620.7 1400.1,618.6 1400.6,616.4 1401.0,614.3 1401.4,612.1 1401.9,609.9 1402.4,607.7 1402.9,605.6 1403.4,603.4 1403.9,601.2 1404.3,599.1 1404.7,596.6 1405.0,594.1 1405.3,591.7 1405.6,589.2 1405.9,586.8 1406.2,584.3 1406.6,581.8 1406.9,579.4 1407.2,576.9 1407.6,574.5 1407.9,572.0 1408.2,569.5 1408.5,567.2 1408.7,564.9 1409.0,562.5 1409.2,560.1 1409.5,557.8 1409.7,555.4 1410.0,553.0 1410.2,550.7 1410.5,548.4 1410.7,546.0 1411.0,543.7 1411.2,541.3 1411.5,539.0 1411.7,536.6 1412.0,534.2 1412.2,531.9 1412.5,529.5 1412.7,527.1 1413.0,524.8 1413.2,522.5 1413.4,520.4 1413.5,518.4 1413.7,516.3 1413.8,514.3 1414.0,512.3 1414.1,510.2 1414.3,508.2 1414.4,506.1 1414.6,504.1 1414.8,502.0 1414.9,500.0 1415.1,497.9 1415.2,495.9 1415.4,493.8 1415.5,491.8 1415.7,489.7 1415.9,487.7 1416.0,485.6 1416.2,483.6 1416.3,481.5 1416.5,479.5 1416.6,477.5 1416.8,475.4 1416.9,473.4 1417.1,471.3 1417.3,469.1 1417.5,466.9 1417.7,464.6 1417.9,462.4 1418.1,460.1 1418.3,457.9 1418.5,455.7 1418.7,453.4 1418.9,451.2 1419.1,449.0 1419.3,446.7 1419.5,444.4 1419.6,442.1 1419.8,439.9 1420.1,437.8 1420.5,435.4 1421.0,433.2 1421.5,431.0 1422.0,428.7 1422.5,426.5 1423.0,424.1 1423.5,422.1 1424.1,419.9 1424.7,417.7 1425.3,415.5 1426.0,413.3 1426.6,411.1 1427.2,408.9 1427.8,406.8 1428.4,404.6 1428.9,402.4 1429.4,400.1 1429.8,397.7 1430.1,395.3 1430.5,393.0 1430.9,390.6 1431.3,388.2 1431.7,385.9 1432.0,383.5 1432.4,381.2 1432.8,378.8 1433.2,376.4 1433.6,374.0 1434.1,371.7 1434.4,369.3 1434.8,367.0 1435.1,364.9 1435.4,362.7 1435.6,360.7 1435.9,358.6 1436.1,356.5 1436.4,354.4 1436.7,352.3 1436.9,350.1 1437.2,348.0 1437.5,345.9 1437.7,343.8 1438.0,341.5 1438.2,339.3 1438.5,337.2 1438.8,335.4 1439.4,333.0 1440.0,330.6 1440.3,328.4 1440.6,326.0 1440.8,323.4 1441.0,320.9 1441.3,318.5 1441.5,316.1 1441.8,313.6 1442.0,311.2 1442.3,308.8 1442.6,306.4 1442.8,303.9 1443.1,301.5 1443.3,299.1 1443.5,296.6 1443.8,294.2 1444.1,291.8 1444.5,289.7 1444.9,287.7 1445.4,285.7 1445.8,283.6 1446.2,281.6 1446.7,279.6 1447.1,277.5 1447.5,275.5 1447.9,273.4 1448.3,271.4 1448.7,269.3 1449.2,267.3 1449.9,265.2 1450.6,263.2 1451.5,261.2 1452.2,259.1 1452.9,257.0 1453.6,254.8 1454.3,252.7 1455.3,251.0 1457.5,248.9 1460.0,247.5 1462.3,246.8 1464.5,246.9 1466.1,248.3 1467.5,250.6 1468.6,253.1 1469.2,255.3 1469.5,257.7 1469.7,260.2 1470.0,262.6 1470.3,265.0 1470.6,267.4 1471.0,269.7 1471.3,272.1 1471.7,274.5 1472.1,276.8 1472.4,279.2 1472.7,281.6 1472.9,283.6 1473.1,285.7 1473.2,287.7 1473.3,289.8 1473.5,291.8 1473.7,293.9 1473.8,295.9 1474.0,298.0 1474.1,300.0 1474.3,302.0 1474.5,304.1 1474.6,306.1 1474.8,308.2 1474.9,310.2 1475.1,312.3 1475.3,314.3 1475.4,316.3 1475.6,318.4 1475.7,320.4 1475.9,322.5 1476.1,324.5 1476.2,326.6 1476.4,328.6 1476.5,330.7 1476.7,332.7 1476.9,334.7 1477.0,336.8 1477.2,338.8 1477.3,340.9 1477.5,342.9 1477.6,344.9 1477.8,347.0 1477.9,349.0 1478.1,351.1 1478.2,353.1 1478.4,355.1 1478.6,357.2 1478.7,359.2 1478.9,361.3 1479.0,363.3 1479.2,365.3 1479.3,367.4 1479.4,369.4 1479.6,371.5 1479.8,373.5 1480.0,375.5 1480.3,377.6 1480.6,379.6 1480.9,381.7 1481.2,383.7 1481.4,385.7 1481.7,387.8 1482.0,389.8 1482.3,391.9 1482.5,393.9 1482.8,395.9 1483.1,398.0 1483.3,400.0 1483.6,402.1 1483.9,404.1 1484.2,406.1 1484.6,408.2 1484.9,410.2 1485.3,412.3 1485.6,414.3 1485.9,416.3 1486.3,418.4 1486.6,420.4 1487.0,422.5 1487.3,424.5 1487.6,426.6 1488.0,428.7 1488.3,430.8 1488.6,432.8 1489.0,434.7 1489.5,436.9 1490.0,438.9 1490.5,440.9 1491.0,442.9 1491.5,445.0 1492.0,447.0 1492.6,449.5 1493.3,451.9 1494.1,452.8 1495.3,451.9 1496.5,449.5 1497.1,447.5 1497.5,445.3 1497.8,443.1 1498.3,441.0 1498.8,439.0 1499.2,436.7 1499.5,434.7 1499.7,432.6 1499.9,430.4 1500.0,428.2 1500.2,426.0 1500.4,423.9 1500.6,421.7 1500.8,419.6 1501.0,417.4 1501.2,415.3 1501.5,413.2 1501.7,411.0 1501.9,408.9 1502.1,406.7 1502.3,404.6 1502.5,402.5 1502.7,400.3 1502.9,398.2 1503.1,396.0 1503.3,393.9 1503.4,391.8 1503.6,389.8 1503.7,387.8 1503.8,385.7 1503.9,383.7 1504.0,381.7 1504.1,379.6 1504.3,377.6 1504.4,375.5 1504.5,373.5 1504.6,371.5 1504.7,369.4 1504.9,367.4 1505.0,365.3 1505.1,363.3 1505.2,361.3 1505.3,359.2 1505.5,357.2 1505.6,355.1 1505.7,353.1 1505.8,351.1 1505.9,349.0 1506.1,347.0 1506.2,344.9 1506.3,342.9 1506.4,340.9 1506.5,338.8 1506.7,336.8 1506.8,334.7 1506.9,332.7 1507.0,330.6 1507.2,328.6 1507.3,326.5 1507.4,324.5 1507.5,322.5 1507.7,320.4 1507.8,318.4 1507.9,316.3 1508.0,314.3 1508.2,312.2 1508.3,310.2 1508.4,308.2 1508.5,306.1 1508.7,304.1 1508.8,302.0 1508.9,300.0 1509.0,297.9 1509.1,295.8 1509.2,293.8 1509.4,291.8 1509.6,289.7 1509.9,287.7 1510.1,285.7 1510.4,283.6 1510.6,281.6 1510.7,279.6 1511.0,277.5 1511.4,275.5 1512.2,273.4 1513.2,271.3 1514.3,269.3 1515.5,267.3 1516.6,265.6 1517.7,263.9 1518.9,262.3 1520.2,260.7 1521.6,259.2 1523.1,257.8 1524.8,256.4 1526.4,255.1 1528.2,254.0 1529.8,253.1 1531.9,252.3 1534.0,252.3 1535.9,251.9 1537.9,252.7 1540.0,253.1 1541.6,252.5 1543.4,251.2 1545.2,249.8 1547.1,248.4 1549.0,247.6 1551.7,247.2 1554.4,246.8 1556.9,246.7 1558.9,247.5 1560.9,247.8 1562.8,248.2 1564.8,248.6 1566.7,248.7 1568.7,249.5 1570.3,250.6 1572.0,252.1 1573.7,253.8 1575.3,255.6 1576.6,257.4 1577.8,259.3 1578.8,261.3 1579.6,263.3 1580.6,265.2 1581.6,267.2 1582.6,269.2 1583.6,271.2 1584.5,273.1 1585.5,275.1 1586.5,277.1 1587.5,279.1 1588.3,281.1 1589.2,283.2 1590.4,285.0 1592.2,286.4 1594.3,287.6 1596.3,288.9 1597.9,290.2 1599.4,291.6 1600.9,293.2 1602.2,294.8 1603.5,297.1 1604.5,299.5 1605.5,302.0 1606.4,304.3 1607.3,306.6 1608.0,309.0 1608.4,311.1 1608.7,313.3 1609.0,315.5 1609.2,317.6 1609.6,319.8 1609.9,322.0 1610.2,324.1 1610.5,326.3 1610.8,328.6 1611.0,331.0 1611.3,333.3 1611.5,335.6 1611.8,338.0 1612.0,340.4 1612.3,342.7 1612.5,345.0 1612.8,347.6 1613.0,350.0 1613.3,352.5 1613.5,355.0 1613.8,357.4 1614.0,360.0 1614.2,362.3 1614.3,364.7 1614.4,367.2 1614.5,369.6 1614.6,372.0 1614.8,374.4 1614.9,376.8 1615.0,379.2 1615.1,381.7 1615.3,384.1 1615.4,386.5 1615.5,388.9 1615.6,391.3 1615.7,393.6 1615.9,396.0 1616.0,398.5 1616.1,400.7 1616.3,403.0 1616.4,405.2 1616.5,407.5 1616.7,409.8 1616.8,412.1 1616.9,414.3 1617.1,416.6 1617.2,418.9 1617.3,421.1 1617.5,423.4 1617.6,425.7 1617.7,427.9 1617.9,430.2 1618.0,432.5 1618.1,434.7 1618.3,437.0 1618.4,439.2 1618.5,441.5 1618.7,443.8 1618.8,446.0 1618.9,448.3 1619.1,450.6 1619.2,452.8 1619.3,455.1 1619.5,457.3 1619.6,459.6 1619.7,461.9 1619.9,464.1 1620.0,466.4"/>
<polyline fill="none" stroke="#00f" stroke-width="2.0" stroke-linejoin="round" stroke-linecap="round" points="187.8,386.9 189.7,386.0 191.7,385.1 193.6,384.3 195.4,383.6 197.7,382.6 199.7,382.3 201.1,383.7 202.5,384.0 204.5,383.0 206.8,381.8 208.9,381.3 211.1,381.4 213.4,381.1 216.0,381.0 218.6,380.3 221.0,380.6 223.0,380.6 224.8,380.8 226.5,382.6 228.1,384.2 230.1,383.1 232.3,382.3 235.2,381.9 238.0,381.6 240.0,381.1 241.8,380.9 243.7,380.0 245.6,379.8 247.5,380.7 249.4,381.4 250.8,381.0 252.2,380.2 253.8,381.6 255.5,382.2 257.1,381.3 258.8,380.0 260.7,380.1 262.6,380.8 264.5,380.0 266.4,379.7 268.3,380.6 270.2,382.1 272.1,381.3 274.0,380.8 276.4,381.5 278.7,382.1 280.2,381.5 281.6,380.5 283.5,380.0 285.4,379.7 286.9,380.2 288.2,381.3 289.4,383.4 290.4,386.0 291.5,387.4 292.7,386.8 293.9,385.5 295.0,383.3 296.2,381.3 297.8,380.8 299.6,380.7 301.5,381.5 303.3,382.7 305.0,384.4 306.6,386.4 308.1,388.4 309.6,390.4 310.9,392.6 311.7,394.7 312.4,397.1 313.0,399.6 313.8,402.1 314.5,404.0 315.2,405.9 316.0,407.8 316.8,409.7 317.5,411.5 318.3,413.4 319.0,415.3 319.8,417.2 320.4,419.1 320.9,421.3 321.4,423.6 321.8,425.9 322.3,428.0 322.9,430.0 323.6,431.9 324.4,433.9 325.2,435.9 326.1,438.0 327.0,440.1 328.0,442.2 328.8,444.3 329.6,446.5 330.5,448.6 331.5,450.5 333.0,452.2 334.6,453.6 336.2,455.2 337.4,456.8 338.6,458.6 339.8,460.5 340.9,462.3 342.1,464.1 343.3,465.9 344.5,467.6 345.7,469.4 347.0,471.2 348.4,473.0 349.8,474.7 351.2,476.5 352.6,478.3 353.9,480.0 355.3,481.8 356.7,483.6 358.1,485.4 359.5,487.1 360.9,488.9 362.2,490.7 363.4,492.5 364.6,494.2 365.7,496.0 367.0,497.8 368.3,499.5 369.7,501.3 371.2,503.1 372.7,504.9 374.1,506.7 375.5,508.5 376.9,510.4 378.4,512.2 379.8,514.0 381.2,515.6 383.2,517.5 385.1,519.2 387.1,520.9 389.0,522.7 390.9,524.5 393.0,526.2 394.7,527.2 396.5,528.2 398.4,529.1 400.5,529.9 402.5,530.4 404.8,530.8 407.3,531.5 409.8,531.2 412.2,531.1 414.3,531.0 416.5,530.1 418.4,528.9 420.3,527.7 422.3,526.6 424.3,525.6 426.2,524.3 427.5,522.8 428.7,521.1 429.8,519.2 430.9,517.4 432.1,515.7 433.3,514.0 434.5,512.3 435.7,510.6 436.9,508.9 438.1,507.2 439.2,505.5 440.4,503.7 441.4,502.0 442.3,500.3 443.2,498.5 444.2,496.6 445.1,494.9 446.0,493.1 447.0,491.3 448.0,489.5 448.9,487.7 449.8,486.0 450.8,484.0 451.8,482.0 452.8,480.1 453.8,478.1 454.8,476.1 455.8,474.1 456.7,472.2 457.7,470.2 458.7,468.2 459.7,466.2 460.7,464.3 461.7,462.3 462.8,460.4 464.0,458.4 465.2,456.5 466.4,454.6 467.5,452.6 468.7,450.6 469.8,448.6 471.1,446.9 472.6,445.4 474.2,444.1 475.9,442.8 477.4,441.4 478.9,440.0 480.6,438.6 482.1,437.5 483.7,436.3 485.5,435.1 487.2,433.9 488.9,432.7 490.6,431.5 492.3,430.4 494.0,429.3 495.7,428.1 497.2,426.8 498.9,425.1 500.5,423.3 502.0,421.5 503.5,419.7 505.1,417.9 506.6,416.1 508.2,414.4 509.8,412.6 511.4,410.8 512.9,409.1 514.5,407.3 516.1,405.5 517.5,404.0 518.9,402.4 520.3,400.9 521.8,399.3 523.2,397.8 524.6,396.2 526.0,394.6 527.3,392.9 528.8,391.4 530.3,390.1 532.3,388.9 534.3,387.8 536.5,386.9 538.5,386.0 540.6,384.8 542.6,383.7 544.7,382.6 546.8,381.7 548.8,381.2 550.9,380.9 553.0,380.8 555.1,380.6 557.2,380.9 559.3,380.6 561.3,379.8 563.4,380.0 565.5,380.0 567.6,380.3 569.6,380.7 571.7,381.2 573.7,381.5 575.8,381.7 577.8,381.8 580.0,382.2 582.1,382.3 584.4,382.7 586.7,383.0 589.0,383.0 591.3,383.0 593.6,383.3 596.0,383.8 598.3,384.3 600.5,384.6 602.6,384.1 604.6,383.6 606.4,382.5 608.2,381.6 610.0,380.9 612.5,381.1 615.0,381.8 617.5,382.2 620.0,382.9 622.5,383.2 625.0,383.3 627.5,383.3 630.0,382.9 632.5,382.1 635.0,381.7 637.5,381.2 640.0,381.3 642.5,381.5 645.0,381.7 647.5,382.4 650.0,382.9 652.5,383.1 655.0,383.5 657.5,383.0 660.0,382.9 662.5,382.3 664.9,382.0 667.4,381.5 670.0,381.1 672.2,381.1 674.5,380.9 676.9,380.6 679.3,381.0 681.7,380.6 684.0,380.7 686.3,381.2 688.7,380.6 691.0,380.6 693.3,380.6 695.7,381.3 698.0,380.7 700.3,380.6 702.7,381.3 705.0,380.7 707.3,381.3 709.7,381.2 712.0,381.3 714.3,381.4 716.7,381.1 719.0,381.3 721.3,380.6 723.7,381.2 726.0,381.0 728.3,381.2 730.7,380.6 733.0,381.2 735.3,381.4 737.7,380.6 740.0,380.8 742.3,381.1 744.7,381.3 747.0,380.8 749.3,380.7 751.7,380.8 754.0,381.1 756.3,381.2 758.7,380.9 761.0,380.9 763.3,380.9 765.7,380.9 768.0,380.9 770.3,380.6 772.7,381.0 775.0,381.4 777.3,380.9 779.7,381.2 782.0,380.7 784.3,381.2 786.7,381.2 789.0,381.2 791.3,381.0 793.7,381.0 796.0,381.1 798.3,381.4 800.7,380.7 803.0,380.6 805.3,381.2 807.7,381.4 810.0,381.0 812.3,380.9 814.7,381.2 817.0,380.7 819.3,380.8 821.7,380.7 824.0,381.1 826.3,380.8 828.7,380.8 831.0,381.2 833.3,381.4 835.7,380.8 838.2,380.9 840.6,380.6 842.9,380.9 845.0,381.0 847.2,382.2 849.1,383.7 851.0,384.1 852.7,383.6 854.3,382.0 856.0,380.8 857.9,381.2 859.9,382.2 862.0,383.1 864.1,383.1 866.3,383.7 868.5,383.5 870.7,383.9 872.9,384.1 875.0,384.1 877.4,382.6 880.0,381.0 882.0,380.7 884.2,380.9 886.6,381.1 889.1,380.9 891.4,381.3 893.7,381.5 896.0,381.1 898.3,380.9 900.6,380.9 902.9,381.3 905.1,381.3 907.4,381.6 909.7,381.5 912.0,381.0 914.3,380.9 916.6,381.0 918.9,381.0 921.1,381.4 923.4,381.6 925.7,381.6 928.0,381.1 930.3,381.6 932.6,381.2 934.9,381.3 937.1,381.6 939.4,381.0 941.7,381.0 944.0,381.7 946.3,381.2 948.6,381.3 950.9,381.5 953.1,381.6 955.4,381.0 957.7,381.3 960.0,381.4 962.4,381.6 964.7,381.6 967.1,382.1 969.5,382.6 971.8,382.4 974.2,382.7 976.6,382.5 978.9,382.8 981.3,383.3 983.7,383.1 986.0,383.9 988.4,384.1 990.8,383.8 993.1,384.6 995.5,384.2 997.9,384.5 1000.2,384.2 1002.6,383.7 1005.0,383.7 1007.3,383.5 1009.7,383.4 1012.1,382.8 1014.4,383.0 1016.8,382.9 1019.2,382.5 1021.5,382.2 1023.9,381.6 1026.3,381.5 1028.7,381.2 1031.0,381.6 1033.3,382.0 1035.6,382.7 1037.8,383.6 1040.0,384.5 1042.0,385.5 1043.9,386.6 1045.6,387.9 1047.3,389.0 1049.0,390.0 1051.9,391.3 1054.7,391.3 1057.3,391.0 1060.0,390.0 1062.2,389.1 1064.5,388.0 1066.8,386.9 1069.0,385.8 1071.2,384.7 1073.6,383.7 1075.7,383.1 1078.1,383.1 1080.5,382.9 1083.0,382.6 1085.4,382.5 1088.2,381.9 1091.3,381.4 1094.3,381.1 1096.4,381.1 1097.3,380.5 1097.3,380.8 1097.3,380.7 1098.6,381.1 1101.3,381.4 1104.0,381.9 1106.1,382.6 1108.1,383.4 1110.0,384.1 1111.7,384.1 1113.2,384.4 1114.4,385.5 1115.6,386.8 1117.6,388.1 1119.6,389.7 1120.7,391.8 1121.7,394.2 1122.8,396.5 1124.2,398.2 1125.8,399.8 1127.2,401.3 1128.4,402.8 1129.3,404.5 1130.0,406.5 1130.6,408.7 1131.3,410.9 1132.2,413.0 1133.2,415.1 1134.1,417.3 1134.9,419.6 1135.7,422.0 1136.5,424.5 1137.3,426.7 1138.1,428.9 1138.9,431.2 1139.7,433.4 1140.5,435.6 1141.3,437.8 1142.1,440.0 1142.9,442.2 1143.7,444.4 1144.5,446.6 1145.3,448.8 1146.1,451.0 1146.9,453.2 1147.7,455.5 1148.5,457.7 1149.3,459.8 1150.1,462.2 1150.8,464.5 1151.7,466.3 1152.9,467.4 1154.1,467.9 1155.3,467.3 1156.5,465.9 1157.7,464.0 1158.7,461.6 1159.7,459.0 1160.4,456.7 1161.0,454.3 1161.6,451.8 1162.1,449.4 1162.5,447.2 1162.9,445.0 1163.3,442.8 1163.7,440.6 1164.1,438.4 1164.5,436.2 1164.9,434.0 1165.3,431.8 1165.7,429.6 1166.1,427.4 1166.6,425.2 1167.0,422.9 1167.4,420.8 1167.8,418.7 1168.2,416.5 1168.6,414.4 1169.0,412.5 1169.6,410.2 1170.3,408.2 1171.0,406.1 1171.7,403.9 1172.5,401.7 1173.4,399.7 1174.9,397.0 1176.6,394.9 1178.1,394.0 1179.8,393.4 1182.3,394.3 1184.6,395.7 1185.9,397.6 1187.0,399.7 1188.6,401.8 1190.2,403.7 1191.4,404.5 1192.6,405.3 1194.2,407.5 1195.8,410.1 1197.2,411.9 1198.6,413.7 1200.0,415.7 1201.2,417.6 1202.3,419.5 1203.4,421.6 1204.5,423.5 1205.7,425.6 1206.8,427.6 1207.9,429.6 1209.1,431.4 1210.5,433.3 1212.0,435.1 1213.5,436.9 1215.0,438.7 1216.5,440.5 1217.9,442.4 1219.0,444.3 1220.1,446.4 1221.2,448.5 1222.2,450.6 1223.3,452.6 1224.4,454.7 1225.5,456.7 1226.6,458.8 1227.7,461.0 1228.8,463.2 1229.9,465.4 1231.0,467.5 1232.1,469.7 1233.2,471.9 1234.3,474.1 1235.4,476.3 1236.4,478.5 1237.3,480.7 1238.1,482.8 1239.0,485.0 1239.9,487.2 1240.8,489.4 1241.8,491.6 1242.7,493.8 1243.6,495.9 1244.5,498.1 1245.4,500.3 1246.3,502.5 1247.2,504.7 1248.1,506.9 1249.0,509.1 1249.9,511.3 1250.8,513.5 1251.8,515.7 1252.7,517.8 1253.6,520.0 1254.5,522.2 1255.4,524.4 1256.3,526.6 1257.2,528.8 1258.0,531.0 1258.7,533.2 1259.4,535.3 1260.1,537.5 1260.9,539.7 1261.6,541.9 1262.3,544.1 1263.1,546.3 1263.8,548.4 1264.5,550.6 1265.3,552.8 1266.0,555.0 1266.7,557.2 1267.5,559.4 1268.2,561.6 1268.9,563.8 1269.6,566.0 1270.3,568.1 1271.1,570.3 1271.8,572.5 1272.5,574.7 1273.3,576.9 1274.0,579.0 1274.7,581.3 1275.3,583.4 1275.9,585.6 1276.5,587.8 1277.1,590.0 1277.6,592.2 1278.2,594.4 1278.8,596.6 1279.4,598.8 1280.0,601.0 1280.6,603.2 1281.2,605.4 1281.8,607.6 1282.4,609.8 1282.9,612.0 1283.5,614.1 1284.1,616.4 1284.6,618.5 1285.2,620.7 1285.7,622.9 1286.2,625.1 1286.8,627.2 1287.3,629.4 1287.9,631.6 1288.5,633.8 1289.0,636.0 1289.6,638.2 1290.1,640.4 1290.5,642.5 1290.9,644.5 1291.3,646.6 1291.7,648.6 1292.1,650.6 1292.5,652.7 1293.0,654.8 1293.4,656.8 1293.8,658.8 1294.2,660.8 1294.6,662.8 1295.0,665.0 1295.5,667.2 1296.0,669.5 1296.5,671.9 1297.1,674.3 1297.6,676.7 1298.1,679.1 1298.7,681.5 1299.2,683.9 1299.7,686.2 1300.2,688.4 1300.7,690.6 1301.2,692.6 1301.6,694.6 1302.1,696.6 1302.6,698.6 1303.1,700.7 1303.5,702.8 1304.0,704.8 1304.5,706.8 1305.0,708.9 1305.4,710.9 1305.9,713.0 1306.4,715.2 1306.9,717.4 1307.3,719.6 1307.8,721.8 1308.3,724.0 1308.8,726.2 1309.2,728.5 1309.7,730.7 1310.2,732.9 1310.6,735.1 1311.1,737.3 1311.6,739.5 1312.3,741.9 1313.0,744.2 1313.7,746.6 1314.4,749.0 1315.1,751.4 1315.8,753.8 1316.5,756.2 1317.3,758.5 1318.2,760.8 1319.2,763.0 1320.3,765.3 1321.5,767.5 1322.5,769.4 1323.5,771.4 1324.6,773.3 1325.7,775.0 1327.0,776.5 1329.0,777.9 1331.3,778.9 1333.4,780.0 1335.3,781.5 1337.1,783.3 1339.0,785.0 1340.5,786.3 1342.1,787.7 1343.6,789.1 1345.1,790.5 1346.6,792.1 1348.1,793.7 1349.5,795.4 1351.0,797.0 1352.5,798.6 1354.0,800.3 1355.4,801.9 1356.8,803.3 1358.7,805.2 1360.5,806.8 1362.1,808.1 1363.8,809.2 1365.6,810.1 1367.5,811.1 1369.6,811.8 1371.9,811.8 1374.2,811.0 1376.6,810.3 1378.7,809.4 1380.7,808.2 1382.8,806.9 1384.8,805.7 1387.3,804.5 1389.7,803.4 1391.8,802.2 1393.9,800.7 1395.6,799.0 1397.3,796.6 1398.8,794.0 1399.8,792.2 1400.7,790.4 1401.5,788.5 1402.2,786.5 1402.9,784.5 1403.5,782.3 1404.1,780.3 1404.7,778.2 1405.3,776.0 1405.8,773.8 1406.3,771.7 1406.8,769.1 1407.3,766.6 1407.8,764.2 1408.2,761.7 1408.7,759.2 1409.2,756.6 1409.6,754.2 1409.9,751.8 1410.2,749.3 1410.5,746.8 1410.9,744.3 1411.2,741.9 1411.5,739.4 1411.9,736.9 1412.2,734.5 1412.6,732.0 1412.9,729.6 1413.2,727.1 1413.5,724.6 1413.7,722.2 1413.9,719.7 1414.2,717.2 1414.4,714.8 1414.7,712.3 1414.9,709.8 1415.1,707.4 1415.4,704.9 1415.6,702.4 1415.9,700.0 1416.1,697.5 1416.3,695.0 1416.6,692.6 1416.8,690.1 1417.1,687.7 1417.3,685.2 1417.6,682.8 1417.8,680.3 1418.1,677.8 1418.3,675.4 1418.6,672.9 1418.8,670.4 1419.1,668.0 1419.3,665.8 1419.6,663.7 1419.8,661.6 1420.1,659.5 1420.3,657.3 1420.5,655.2 1420.8,653.1 1421.0,650.9 1421.3,648.8 1421.5,646.6 1421.7,644.5 1422.0,642.4 1422.4,640.4 1422.8,638.4 1423.2,636.5 1423.7,634.5 1424.1,632.6 1424.5,630.6 1424.9,628.6 1425.3,626.7 1425.8,624.7 1426.2,622.8 1426.6,620.8 1427.0,618.8 1427.4,616.4 1427.8,613.9 1428.1,611.4 1428.5,608.9 1428.8,606.5 1429.2,604.0 1429.6,601.6 1430.0,599.1 1430.3,596.6 1430.7,594.2 1431.1,591.7 1431.4,589.2 1431.8,586.8 1432.2,584.4 1432.6,581.9 1432.9,579.4 1433.2,577.1 1433.4,574.8 1433.7,572.4 1433.9,570.1 1434.2,567.7 1434.5,565.3 1434.7,563.0 1435.0,560.6 1435.2,558.2 1435.5,556.0 1435.8,553.6 1436.1,551.3 1436.3,549.1 1436.6,546.8 1436.9,544.5 1437.2,542.2 1437.4,539.9 1437.7,537.6 1438.0,535.3 1438.3,533.0 1438.5,530.7 1438.8,528.4 1439.1,526.0 1439.3,523.5 1439.5,521.0 1439.8,518.5 1440.0,516.1 1440.3,513.6 1440.5,511.2 1440.8,508.7 1441.0,506.2 1441.2,503.8 1441.5,501.3 1441.7,498.9 1442.0,496.4 1442.2,493.9 1442.4,491.4 1442.7,489.0 1443.0,486.7 1443.4,484.4 1443.8,482.2 1444.1,479.8 1444.4,477.6 1444.7,475.2 1444.9,472.9 1445.2,470.5 1445.5,468.2 1445.7,465.8 1446.0,463.5 1446.3,461.2 1446.6,458.9 1446.8,456.5 1447.1,454.2 1447.4,451.8 1447.6,449.5 1447.9,447.2 1448.2,444.9 1448.5,442.8 1448.7,440.8 1449.0,438.7 1449.3,436.7 1449.5,434.7 1449.8,432.7 1450.1,430.6 1450.3,428.6 1450.6,426.5 1450.9,424.5 1451.1,422.4 1451.4,420.4 1451.7,418.3 1451.9,416.3 1452.2,414.3 1452.5,412.2 1452.9,410.2 1453.2,408.2 1453.6,406.1 1453.9,404.1 1454.2,402.1 1454.6,400.0 1454.9,398.0 1455.2,395.9 1455.5,393.9 1455.8,391.8 1456.3,389.8 1457.1,387.5 1458.0,385.2 1459.1,383.1 1460.4,381.6 1463.0,380.8 1465.5,380.6 1466.9,382.3 1467.9,385.0 1468.6,387.8 1469.0,389.9 1469.2,392.1 1469.4,394.4 1469.6,396.6 1469.8,398.8 1470.1,401.1 1470.3,403.3 1470.6,405.5 1470.9,407.7 1471.1,409.8 1471.4,412.0 1471.6,414.3 1471.8,416.3 1471.9,418.3 1472.0,420.4 1472.1,422.4 1472.2,424.5 1472.3,426.5 1472.5,428.6 1472.6,430.6 1472.7,432.7 1472.8,434.7 1473.0,436.7 1473.1,438.8 1473.2,440.8 1473.3,442.9 1473.5,444.9 1473.6,446.9 1473.7,449.0 1473.8,451.0 1474.0,453.1 1474.1,455.1 1474.2,457.2 1474.3,459.3 1474.5,461.3 1474.6,463.4 1474.7,465.3 1474.9,467.8 1475.0,470.2 1475.2,472.6 1475.4,474.9 1475.5,477.3 1475.7,479.8 1475.8,482.1 1476.0,484.6 1476.1,487.1 1476.2,489.6 1476.3,492.1 1476.5,494.5 1476.6,496.9 1476.7,499.4 1476.8,501.9 1477.0,504.3 1477.1,506.8 1477.2,509.2 1477.3,511.6 1477.4,514.1 1477.6,516.5 1477.7,518.9 1477.8,521.3 1477.9,523.8 1478.0,526.2 1478.1,528.6 1478.2,531.0 1478.4,533.4 1478.5,535.9 1478.6,538.3 1478.8,540.7 1479.0,543.2 1479.1,545.6 1479.3,548.0 1479.5,550.5 1479.7,552.9 1479.9,555.3 1480.1,557.8 1480.2,560.2 1480.4,562.6 1480.6,565.1 1480.8,567.5 1481.0,569.9 1481.2,572.4 1481.3,574.8 1481.5,577.2 1481.7,579.6 1481.9,582.0 1482.1,584.5 1482.3,586.9 1482.4,589.3 1482.6,591.8 1482.8,594.2 1483.0,596.6 1483.3,599.0 1483.6,601.5 1483.9,603.9 1484.2,606.3 1484.5,608.8 1484.8,611.2 1485.1,613.6 1485.4,616.1 1485.7,618.5 1485.9,620.9 1486.2,623.3 1486.6,625.8 1487.0,627.9 1487.4,630.1 1487.9,632.3 1488.3,634.5 1488.8,636.7 1489.2,638.9 1489.7,641.2 1490.1,643.4 1490.5,645.6 1491.0,647.6 1491.6,650.1 1492.3,652.4 1493.0,654.5 1494.0,656.8 1495.1,658.2 1496.1,657.0 1497.0,655.0 1497.8,652.8 1498.4,650.3 1499.0,647.6 1499.4,645.6 1499.7,643.4 1499.9,641.2 1500.2,638.9 1500.5,636.7 1500.8,634.5 1501.1,632.3 1501.5,630.1 1501.7,627.9 1502.0,625.8 1502.2,623.3 1502.4,620.9 1502.5,618.5 1502.7,616.1 1502.9,613.6 1503.0,611.2 1503.2,608.8 1503.4,606.3 1503.6,603.9 1503.8,601.5 1503.9,599.0 1504.1,596.6 1504.2,594.2 1504.4,591.7 1504.5,589.3 1504.6,586.9 1504.7,584.5 1504.8,582.0 1505.0,579.6 1505.1,577.2 1505.2,574.8 1505.4,572.4 1505.5,569.9 1505.6,567.5 1505.7,565.1 1505.8,562.6 1505.9,560.2 1506.0,557.8 1506.1,555.3 1506.2,552.9 1506.3,550.5 1506.4,548.0 1506.5,545.6 1506.6,543.2 1506.7,540.7 1506.8,538.3 1506.9,535.9 1507.0,533.4 1507.1,531.0 1507.1,528.6 1507.2,526.2 1507.3,523.8 1507.4,521.3 1507.5,518.9 1507.6,516.5 1507.6,514.1 1507.7,511.6 1507.8,509.2 1507.9,506.8 1507.9,504.3 1508.0,501.9 1508.0,499.4 1508.1,496.9 1508.1,494.5 1508.2,492.1 1508.2,489.6 1508.2,487.2 1508.3,484.8 1508.3,482.3 1508.4,479.8 1508.5,477.5 1508.6,475.2 1508.8,472.9 1508.9,470.5 1509.1,468.2 1509.2,465.8 1509.3,463.5 1509.5,461.2 1509.6,458.9 1509.7,456.5 1509.9,454.2 1510.0,451.8 1510.1,449.4 1510.2,447.1 1510.4,444.9 1510.6,442.8 1510.9,440.7 1511.2,438.7 1511.4,436.7 1511.7,434.7 1511.9,432.6 1512.2,430.6 1512.5,428.6 1512.7,426.5 1512.8,424.5 1513.0,422.4 1513.5,420.4 1514.3,418.3 1515.4,416.2 1516.5,414.2 1517.6,412.2 1518.7,410.1 1519.7,408.1 1520.7,406.1 1521.6,404.1 1522.6,402.1 1523.7,400.0 1524.7,398.0 1525.8,395.7 1527.1,393.4 1528.4,391.3 1529.8,389.8 1531.8,388.7 1533.9,388.2 1535.9,387.9 1538.1,388.2 1540.0,388.8 1541.5,386.8 1543.1,384.3 1544.8,383.2 1546.9,382.4 1549.0,381.7 1551.3,381.1 1553.6,380.7 1555.9,380.8 1558.2,381.7 1560.5,383.3 1562.8,384.7 1564.8,385.2 1566.9,385.3 1568.9,385.8 1570.7,386.6 1572.2,388.1 1573.5,390.0 1574.6,392.2 1575.6,394.4 1576.6,396.5 1577.5,398.5 1578.2,400.5 1578.9,402.4 1579.5,404.4 1580.3,406.3 1581.0,408.3 1581.8,410.2 1582.5,412.2 1583.2,414.2 1584.0,416.1 1584.7,418.1 1585.5,420.1 1586.1,422.1 1586.8,424.1 1587.5,426.1 1588.4,428.0 1589.7,430.2 1591.1,432.4 1592.7,434.4 1594.3,435.9 1596.9,436.9 1599.3,437.8 1600.5,439.5 1601.4,441.6 1602.2,443.7 1603.3,445.7 1604.3,447.6 1605.2,449.7 1605.7,451.8 1606.1,454.0 1606.3,456.3 1606.7,458.5 1607.0,460.8 1607.4,462.9 1607.8,465.2 1608.1,467.4 1608.4,469.8 1608.8,472.3 1609.1,474.8 1609.4,477.2 1609.8,479.7 1610.1,482.1 1610.4,484.6 1610.8,487.1 1611.1,489.5 1611.5,492.0 1611.8,494.4 1612.1,496.9 1612.3,499.0 1612.4,501.2 1612.6,503.3 1612.7,505.5 1612.8,507.7 1613.0,509.8 1613.1,512.0 1613.3,514.1 1613.4,516.3 1613.5,518.5 1613.7,520.6 1613.8,522.8 1614.0,524.9 1614.1,527.1 1614.3,529.2 1614.4,531.4 1614.6,533.5 1614.7,535.7 1614.9,537.8 1615.0,540.0 1615.1,542.3 1615.2,544.6 1615.3,547.0 1615.4,549.3 1615.5,551.7 1615.6,554.0 1615.7,556.3 1615.8,558.7 1615.9,561.0 1616.0,563.3 1616.1,565.7 1616.2,568.0 1616.3,570.4 1616.4,572.7 1616.5,575.0 1616.6,577.2 1616.7,579.4 1616.8,581.7 1617.0,583.9 1617.1,586.1 1617.2,588.3 1617.3,590.5 1617.4,592.7 1617.6,594.9 1617.7,597.1 1617.8,599.3 1617.9,601.6 1618.0,603.8 1618.1,606.0 1618.2,608.2 1618.4,610.4 1618.5,612.6 1618.6,614.8 1618.7,617.1 1618.8,619.3 1618.9,621.5 1619.1,623.7 1619.2,625.9 1619.3,628.1 1619.4,630.3 1619.5,632.5 1619.7,634.8 1619.8,637.0 1619.9,639.2 1620.0,641.4"/>
<polyline fill="none" stroke="#008080" stroke-width="2.0" stroke-linejoin="round" stroke-linecap="round" points="188.3,778.7 190.4,778.5 192.4,778.5 194.5,778.2 196.6,778.2 198.9,778.7 201.3,779.4 203.7,779.9 206.1,780.4 208.4,780.6 210.7,781.2 213.1,781.5 215.5,781.8 217.8,782.0 220.1,782.3 222.5,783.0 225.0,783.1 227.3,783.3 229.8,783.5 232.2,783.2 234.6,783.5 237.0,784.0 239.2,784.3 241.4,784.6 243.4,784.8 245.4,784.5 247.4,785.1 249.6,785.3 251.7,785.4 253.8,785.4 255.7,786.0 257.8,786.9 259.7,788.1 261.6,789.2 263.7,790.5 265.7,791.7 267.6,792.7 269.9,791.7 272.3,791.1 274.2,791.4 276.2,792.0 278.2,792.9 280.2,793.5 282.2,794.1 284.1,795.0 285.8,797.0 287.4,799.4 288.9,800.6 290.6,799.6 292.4,799.1 294.3,800.0 296.4,801.8 298.3,803.8 300.0,805.5 301.5,807.3 303.0,809.1 304.7,810.8 306.3,812.6 307.8,814.4 309.1,816.3 310.2,818.3 311.4,820.3 312.5,822.3 313.7,824.2 314.9,826.3 315.8,828.1 316.7,830.1 317.6,832.0 318.4,834.0 319.3,835.9 320.2,837.9 321.1,839.8 322.0,841.7 322.9,843.6 323.8,845.5 324.7,847.4 325.6,849.4 326.4,851.3 327.3,853.2 328.2,855.1 329.1,857.0 330.3,859.4 331.5,861.7 332.6,864.1 333.8,866.4 335.0,868.8 336.2,871.2 337.1,872.9 338.0,874.7 339.0,876.5 340.0,878.3 340.9,880.1 341.9,881.9 342.8,883.7 343.8,885.5 344.7,887.3 345.7,889.0 346.9,890.9 348.0,892.8 349.2,894.6 350.4,896.5 351.6,898.4 352.8,900.3 354.0,902.1 355.2,904.0 356.3,905.9 357.5,907.9 358.7,909.7 359.9,911.5 361.4,913.4 363.0,915.1 364.6,916.8 366.1,918.6 367.7,920.3 369.3,922.1 370.6,923.6 372.0,925.0 373.4,926.5 374.8,928.0 376.2,929.5 377.6,931.0 379.0,932.5 380.4,934.0 381.7,935.5 383.1,937.1 384.5,938.6 385.9,939.9 387.8,941.2 389.8,942.3 391.9,943.5 393.8,944.6 395.7,945.8 397.8,947.0 399.7,948.0 401.8,949.0 404.0,950.0 406.2,950.9 408.4,951.2 410.5,951.7 412.7,951.0 414.9,950.8 417.0,950.1 419.0,949.3 420.8,948.4 422.5,947.2 424.1,946.0 425.7,944.6 427.3,943.4 429.0,942.2 430.7,941.1 432.4,940.0 434.1,938.8 435.6,937.5 437.2,935.8 438.7,934.0 440.1,932.2 441.5,930.4 443.1,928.6 444.6,926.9 446.1,925.1 447.5,923.3 448.8,921.5 449.9,919.8 451.1,918.0 452.2,916.2 453.4,914.4 454.6,912.6 455.8,910.9 457.0,909.1 458.1,907.3 459.3,905.6 460.5,903.8 461.7,902.0 463.1,900.1 464.6,898.2 466.1,896.2 467.6,894.3 469.1,892.3 470.5,890.3 472.0,888.4 473.5,886.6 475.0,885.1 476.6,883.7 478.2,882.4 479.8,881.1 481.4,879.7 482.9,878.3 484.5,876.9 486.1,875.5 487.7,874.2 489.3,872.8 490.9,871.5 492.4,870.0 494.0,868.2 495.6,866.4 497.2,864.4 498.7,862.5 500.3,860.7 501.9,858.8 503.5,856.9 505.1,855.1 506.7,853.2 508.2,851.3 509.8,849.5 511.4,847.6 512.9,845.8 514.4,844.0 515.8,842.3 517.3,840.5 518.8,838.7 520.2,837.0 521.7,835.2 523.2,833.4 524.7,831.6 526.2,829.9 527.6,828.1 529.1,826.3 530.5,824.5 532.0,822.7 533.4,820.9 535.0,819.2 536.7,817.7 538.5,816.3 540.3,815.0 542.1,813.7 543.9,812.3 545.6,810.9 547.4,809.5 549.2,808.1 551.0,806.7 552.7,805.3 554.5,803.9 556.3,802.6 558.2,801.5 560.1,800.5 562.1,799.5 564.0,798.5 566.0,797.4 568.0,796.4 569.9,795.3 571.8,794.4 573.8,793.5 575.8,792.8 577.8,792.1 579.7,791.2 581.6,790.3 583.7,789.6 585.7,789.4 587.9,788.8 590.2,788.9 592.4,789.0 594.3,789.0 596.6,790.0 598.6,791.5 600.2,793.3 601.2,795.3 601.9,797.5 602.6,799.8 603.4,801.9 604.2,804.0 605.0,806.3 605.6,808.1 606.3,810.0 607.0,812.0 607.6,814.0 608.3,816.0 609.0,818.3 609.7,820.8 610.4,823.2 611.0,825.0 611.6,825.7 612.3,824.3 613.0,821.3 613.6,818.3 614.3,815.9 614.9,813.4 615.6,811.0 616.4,808.5 617.2,806.0 618.0,803.5 618.7,800.7 619.4,797.8 620.4,796.1 622.1,795.9 623.9,796.8 625.7,798.0 627.5,799.3 629.2,797.2 631.0,794.9 633.3,794.9 635.7,794.9 637.1,793.7 638.5,791.6 639.9,789.4 641.3,787.4 642.8,786.2 644.7,786.2 646.7,786.8 648.8,786.9 650.7,787.5 652.7,788.0 654.7,787.9 656.4,787.0 658.2,785.7 659.9,784.3 661.8,783.3 663.8,782.8 665.9,782.7 668.0,782.8 670.0,782.5 672.1,782.0 674.1,781.6 676.1,781.4 678.3,781.5 680.5,781.8 682.9,781.7 685.3,781.3 687.7,781.4 690.1,781.8 692.5,781.4 694.9,781.5 697.2,781.2 699.6,781.3 702.0,781.7 704.3,781.8 706.7,781.8 709.1,781.6 711.4,782.1 713.8,781.9 716.2,781.5 718.5,781.4 720.9,782.2 723.3,782.3 725.6,782.2 728.0,782.0 730.4,781.7 732.7,781.6 735.1,781.7 737.5,781.7 739.8,782.4 742.2,782.4 744.6,782.3 746.9,781.8 749.3,781.9 751.7,781.9 754.0,782.5 756.4,781.8 758.8,782.4 761.1,782.3 763.5,782.2 765.9,782.6 768.2,782.0 770.6,782.2 773.0,781.9 775.3,781.9 777.7,781.8 780.1,782.1 782.4,781.9 784.8,781.9 787.2,782.7 789.5,782.1 791.9,782.7 794.3,782.5 796.6,782.6 799.0,782.5 801.4,782.8 803.8,782.7 806.1,782.6 808.5,782.5 810.9,782.6 813.2,782.6 815.6,782.5 818.0,782.5 820.3,782.2 822.7,782.8 825.1,782.5 827.4,782.1 829.8,782.2 832.2,782.9 834.5,782.3 836.9,782.3 839.3,782.6 841.7,782.7 844.0,782.5 846.2,783.0 848.5,783.7 850.7,784.2 852.8,785.2 854.7,784.8 856.8,784.2 858.8,782.7 860.6,781.8 862.8,783.3 865.3,784.6 867.1,784.6 869.2,784.9 871.5,784.7 873.8,784.8 876.0,784.3 878.1,784.9 880.2,785.0 882.4,784.8 884.5,785.0 886.6,785.0 888.8,784.6 890.9,785.0 893.0,785.0 895.2,784.8 897.3,784.4 899.4,784.8 901.6,785.1 903.7,784.6 905.9,784.9 908.0,785.1 910.1,784.9 912.3,784.4 914.4,784.9 916.5,784.6 918.7,785.2 920.8,785.0 922.9,784.7 925.1,785.3 927.2,785.0 929.3,784.8 931.5,785.2 933.6,785.3 935.7,785.3 937.8,785.3 940.0,785.1 942.2,785.2 944.5,785.2 946.8,785.2 949.1,785.7 951.4,785.2 953.6,785.1 955.9,785.7 958.2,785.5 960.4,785.7 962.7,785.8 965.0,785.5 967.3,785.6 969.5,785.5 971.8,786.2 974.1,786.4 976.4,786.3 978.6,785.8 980.9,786.6 983.2,786.6 985.4,786.4 987.7,786.0 990.0,786.8 992.3,786.7 994.5,786.8 996.8,786.3 999.0,786.9 1001.2,786.3 1003.4,786.7 1005.6,786.4 1007.8,786.6 1009.9,787.1 1012.1,786.9 1014.3,787.0 1016.5,786.5 1018.7,786.6 1020.9,786.8 1023.1,786.3 1025.3,786.6 1027.5,787.1 1029.6,786.9 1031.9,787.0 1034.1,786.4 1036.3,786.7 1038.5,786.8 1040.6,786.8 1042.9,786.9 1045.1,787.2 1047.3,787.6 1049.4,788.4 1051.7,788.8 1053.9,788.9 1056.1,789.5 1058.3,789.6 1060.5,790.0 1062.7,790.4 1065.0,790.3 1067.2,790.7 1069.4,790.6 1071.7,791.0 1073.9,790.9 1076.1,791.4 1078.3,791.8 1080.5,792.6 1082.7,792.9 1084.9,793.7 1087.2,793.9 1089.4,794.7 1091.7,794.9 1093.8,795.5 1095.8,796.4 1097.7,797.3 1099.6,798.2 1101.5,799.1 1103.5,800.0 1105.5,800.8 1107.4,801.7 1109.2,802.7 1111.1,804.2 1112.9,805.8 1114.6,807.5 1116.4,809.1 1118.3,810.7 1120.0,812.3 1122.1,814.2 1123.9,816.3 1125.3,818.8 1126.6,821.5 1127.6,823.2 1128.7,825.0 1129.8,826.8 1130.9,828.9 1132.0,831.0 1133.1,833.3 1133.9,835.2 1134.8,837.2 1135.6,839.3 1136.4,841.2 1137.5,843.5 1138.6,845.6 1139.7,847.8 1140.8,850.0 1141.9,852.1 1143.0,854.3 1144.1,856.7 1145.2,859.2 1146.3,861.5 1147.9,864.0 1149.5,866.1 1151.0,867.8 1152.5,869.0 1154.0,868.4 1155.4,867.4 1157.1,865.4 1158.7,862.8 1159.7,860.8 1160.5,858.6 1161.3,856.3 1162.0,853.9 1162.7,851.5 1163.3,849.1 1163.8,847.1 1164.3,845.2 1164.8,843.2 1165.3,841.2 1166.0,838.8 1166.6,836.4 1167.3,834.0 1167.9,831.8 1168.5,829.6 1169.2,827.4 1169.9,825.4 1170.7,823.2 1171.5,821.2 1172.5,819.5 1174.0,817.7 1175.8,816.3 1178.3,815.1 1181.0,814.1 1183.1,814.7 1185.0,815.7 1186.6,815.6 1188.3,814.8 1190.2,815.2 1192.2,815.3 1194.2,814.4 1196.1,814.3 1198.1,815.2 1200.0,815.9 1201.8,816.0 1203.6,816.3 1205.4,817.4 1207.4,819.0 1209.3,820.5 1211.2,822.0 1213.2,823.4 1215.0,824.8 1216.6,826.2 1218.2,827.6 1219.8,829.0 1221.3,830.5 1222.8,832.0 1224.5,833.3 1226.3,834.3 1228.2,835.1 1230.2,836.1 1231.7,837.2 1233.3,838.5 1234.9,839.9 1236.4,841.4 1237.8,842.8 1239.2,844.4 1240.4,846.0 1241.6,847.6 1242.8,849.2 1244.0,850.8 1245.2,852.5 1246.4,854.1 1247.7,855.6 1249.4,857.2 1251.2,858.7 1252.6,860.5 1253.4,862.8 1253.7,865.3 1254.1,867.9 1254.6,870.3 1255.1,872.8 1255.6,875.3 1255.9,877.6 1256.1,879.9 1256.3,882.3 1256.6,884.7 1256.8,887.4 1257.0,890.5 1257.2,893.0 1257.5,894.0 1258.0,892.6 1258.5,889.6 1259.0,886.6 1259.5,884.1 1260.0,881.7 1260.5,879.2 1261.0,876.6 1261.5,874.0 1262.0,871.4 1262.3,868.6 1262.6,865.8 1263.5,863.5 1265.0,862.1 1267.0,860.9 1269.2,860.0 1271.3,859.2 1274.0,859.3 1276.8,859.8 1279.2,860.5 1281.0,862.0 1282.6,864.0 1284.2,865.9 1285.8,867.7 1287.5,869.5 1289.1,871.4 1290.5,873.6 1291.7,875.9 1293.0,878.2 1294.4,880.5 1295.8,882.8 1296.9,885.1 1297.7,887.5 1298.2,890.0 1298.8,892.5 1299.4,895.0 1300.0,897.4 1300.6,900.0 1301.1,902.3 1301.5,904.6 1302.0,907.0 1302.4,909.5 1302.7,911.7 1303.1,913.9 1303.4,916.2 1303.6,918.4 1303.9,920.4 1304.2,922.6 1304.4,924.6 1304.6,926.6 1304.8,928.7 1305.1,930.7 1305.3,932.8 1305.6,934.9 1305.9,936.9 1306.2,939.0 1306.5,941.0 1306.8,943.1 1307.1,945.2 1307.5,947.8 1307.9,950.5 1308.3,953.0 1308.8,956.2 1309.3,958.0 1309.8,957.3 1310.3,956.0 1310.8,953.7 1311.2,951.1 1311.5,949.1 1311.8,947.0 1312.1,944.9 1312.4,942.9 1312.7,940.9 1313.0,938.7 1313.3,936.5 1313.5,933.8 1313.9,931.2 1314.2,929.2 1314.7,928.2 1315.5,929.0 1316.3,930.6 1316.7,932.4 1317.1,934.8 1317.3,937.4 1317.5,940.0 1317.7,942.3 1318.0,944.5 1318.3,946.5 1318.6,948.5 1318.9,950.5 1319.2,952.5 1319.5,954.7 1319.9,956.9 1320.3,959.4 1320.8,961.8 1321.4,964.2 1322.0,966.4 1322.8,968.7 1323.5,970.8 1324.3,972.9 1325.2,975.2 1326.1,977.4 1327.2,979.5 1328.7,981.4 1330.5,983.1 1332.3,984.6 1334.3,986.0 1336.4,987.2 1338.1,988.3 1339.1,988.9 1340.0,989.6 1341.2,990.8 1342.6,992.4 1344.1,994.2 1345.7,996.1 1347.2,997.8 1348.7,999.4 1350.2,1000.9 1351.6,1002.4 1353.0,1004.0 1354.3,1005.5 1355.9,1007.7 1357.2,1009.9 1358.4,1012.1 1359.4,1014.4 1360.2,1016.7 1360.9,1019.2 1361.4,1021.2 1361.8,1023.3 1362.3,1025.5 1362.7,1027.6 1363.0,1029.5 1363.4,1031.6 1363.7,1033.6 1364.0,1035.6 1364.3,1037.6 1364.7,1039.7 1365.0,1041.7 1365.3,1043.7 1365.7,1045.8 1366.0,1047.8 1366.4,1049.9 1366.7,1051.9 1367.1,1054.0 1367.5,1056.3 1367.9,1058.7 1368.4,1061.2 1368.8,1063.6 1369.2,1066.0 1369.6,1068.3 1370.1,1070.4 1370.6,1072.4 1371.2,1074.4 1371.6,1076.5 1372.1,1078.5 1372.7,1080.5 1373.5,1082.5 1374.5,1084.4 1375.5,1086.0 1376.6,1087.3 1377.8,1088.1 1378.9,1087.5 1380.0,1086.8 1381.0,1085.9 1381.9,1084.6 1382.7,1082.9 1383.5,1080.8 1384.2,1078.5 1384.9,1076.4 1385.5,1074.3 1386.0,1072.3 1386.5,1070.3 1387.0,1068.3 1387.5,1066.2 1388.0,1064.2 1388.5,1062.2 1388.9,1060.1 1389.3,1058.1 1389.7,1056.0 1390.2,1054.0 1390.6,1051.9 1391.0,1049.9 1391.3,1047.8 1391.6,1045.8 1391.9,1043.8 1392.3,1041.7 1392.6,1039.7 1392.9,1037.7 1393.1,1035.6 1393.3,1033.6 1393.6,1031.5 1393.9,1029.5 1394.1,1027.4 1394.3,1025.4 1394.5,1023.4 1394.7,1021.3 1394.9,1019.2 1395.1,1017.2 1395.3,1015.1 1395.5,1013.1 1395.7,1011.1 1395.9,1008.7 1396.2,1006.3 1396.5,1004.0 1396.7,1001.6 1396.9,999.2 1397.2,996.8 1397.4,994.6 1397.7,992.4 1398.0,990.1 1398.2,987.9 1398.4,985.7 1398.7,983.5 1399.0,981.3 1399.2,979.1 1399.5,976.9 1399.8,974.6 1400.0,972.4 1400.3,970.2 1400.5,968.1 1400.7,966.1 1400.9,964.1 1401.1,962.1 1401.3,960.1 1401.5,958.0 1401.6,955.7 1401.8,953.3 1401.9,950.8 1402.0,948.4 1402.1,945.9 1402.2,943.5 1402.3,941.1 1402.5,938.7 1402.6,936.3 1402.7,933.9 1402.8,931.5 1402.9,929.0 1403.0,926.6 1403.1,924.2 1403.3,921.8 1403.4,919.4 1403.5,917.3 1403.7,915.2 1403.9,913.1 1404.1,911.0 1404.2,908.9 1404.4,906.8 1404.6,904.7 1404.7,902.6 1404.9,900.5 1405.1,898.4 1405.2,896.3 1405.4,894.2 1405.5,892.1 1405.7,890.0 1405.9,887.9 1406.0,885.8 1406.2,883.7 1406.4,881.6 1406.5,879.5 1406.7,877.4 1406.9,875.1 1407.1,872.7 1407.3,870.5 1407.5,868.2 1407.8,865.9 1408.0,863.6 1408.2,861.3 1408.4,859.0 1408.6,856.6 1408.8,854.3 1409.0,852.0 1409.2,849.7 1409.5,847.4 1409.7,845.1 1409.9,842.8 1410.1,840.5 1410.3,838.5 1410.5,836.5 1410.7,834.5 1411.0,832.5 1411.2,830.4 1411.4,828.4 1411.6,826.4 1411.9,824.4 1412.1,822.4 1412.3,820.4 1412.5,818.3 1412.7,816.3 1412.9,814.3 1413.1,812.2 1413.4,810.3 1413.8,808.2 1414.2,806.1 1414.7,804.0 1415.1,802.0 1415.5,799.9 1415.9,797.8 1416.3,795.7 1416.8,793.6 1417.5,791.1 1418.2,788.6 1419.1,786.2 1420.1,784.3 1421.7,782.5 1423.5,781.6 1425.0,782.8 1426.5,784.7 1427.7,786.8 1428.5,788.7 1429.2,790.7 1429.8,792.7 1430.4,794.6 1431.1,796.6 1431.9,798.6 1432.9,800.8 1434.0,803.2 1435.4,805.4 1436.9,806.7 1439.0,806.6 1441.3,805.5 1443.6,804.5 1445.6,803.6 1447.6,802.8 1449.5,802.8 1451.1,803.6 1452.7,805.0 1454.2,806.8 1455.4,808.6 1456.3,810.7 1456.9,813.0 1457.4,815.5 1457.9,817.9 1458.6,820.2 1459.2,822.5 1459.9,824.8 1460.4,827.1 1460.8,829.2 1461.0,831.3 1461.3,833.4 1461.5,835.5 1461.8,837.6 1462.1,839.7 1462.3,841.8 1462.6,843.9 1462.9,846.0 1463.2,848.0 1463.4,850.1 1463.7,852.3 1463.9,854.4 1464.1,856.7 1464.2,858.9 1464.4,861.2 1464.6,863.5 1464.7,865.7 1464.9,867.9 1465.1,870.2 1465.3,872.4 1465.4,874.6 1465.6,876.9 1465.8,879.1 1466.0,881.4 1466.1,883.6 1466.3,885.8 1466.5,887.9 1466.6,890.1 1466.8,892.2 1467.0,894.3 1467.1,896.4 1467.3,898.6 1467.5,900.7 1467.6,902.8 1467.8,904.9 1468.0,907.1 1468.1,909.3 1468.1,911.6 1468.1,913.8 1468.3,915.9 1468.8,917.7 1470.4,919.8 1472.1,921.9 1472.9,923.9 1473.6,926.3 1474.2,928.7 1474.7,931.1 1475.1,933.2 1475.5,935.3 1475.8,937.4 1476.1,939.5 1476.5,942.0 1476.8,944.8 1477.2,947.0 1477.5,947.9 1477.8,946.9 1478.0,944.3 1478.3,941.2 1478.5,938.4 1478.8,936.0 1479.0,933.6 1479.2,931.3 1479.5,928.9 1479.8,926.5 1480.0,924.2 1480.3,921.8 1480.5,919.4 1480.6,917.4 1480.7,915.4 1480.8,913.4 1480.9,911.3 1481.0,909.3 1481.1,907.3 1481.2,905.3 1481.3,903.3 1481.4,901.3 1481.5,899.2 1481.6,897.2 1481.7,895.2 1481.8,893.2 1481.9,891.2 1482.0,889.2 1482.1,887.1 1482.2,885.1 1482.3,883.1 1482.4,881.1 1482.5,879.1 1482.6,877.1 1482.7,875.0 1482.8,873.0 1482.9,871.0 1483.0,869.0 1483.2,866.6 1483.3,864.2 1483.5,861.8 1483.7,859.4 1483.8,857.0 1484.0,854.6 1484.1,852.2 1484.3,849.8 1484.5,847.3 1484.6,844.9 1484.8,842.5 1484.9,840.1 1485.1,837.7 1485.2,835.2 1485.3,832.8 1485.6,830.5 1486.1,828.3 1486.7,826.2 1487.2,824.2 1487.6,821.8 1488.0,819.4 1488.9,817.9 1490.8,818.0 1493.3,819.2 1495.6,820.1 1498.2,819.0 1500.7,817.0 1502.2,815.0 1503.8,812.5 1505.2,810.4 1506.5,809.4 1507.8,810.6 1509.0,812.9 1509.9,815.4 1510.4,817.4 1510.6,819.5 1510.8,821.6 1511.0,823.8 1511.3,825.8 1511.6,827.9 1511.8,830.0 1512.1,832.1 1512.4,834.2 1512.6,836.2 1512.9,838.3 1513.1,840.3 1513.3,842.8 1513.6,845.5 1513.8,847.7 1514.1,848.8 1514.4,847.7 1514.7,845.5 1515.0,842.8 1515.3,840.4 1515.7,838.3 1516.0,836.2 1516.3,834.2 1516.6,832.1 1516.8,830.0 1516.9,827.9 1517.0,825.8 1517.2,823.7 1517.3,821.6 1517.4,819.5 1517.6,817.5 1517.7,815.4 1517.9,813.3 1518.0,811.2 1518.1,809.1 1518.3,807.0 1518.6,804.9 1518.9,802.8 1519.2,800.7 1519.5,798.6 1519.7,796.4 1519.8,794.2 1520.1,792.0 1520.8,790.2 1522.1,788.6 1523.8,787.3 1525.6,786.2 1527.5,785.4 1529.7,785.0 1532.0,785.4 1534.2,786.0 1535.9,787.2 1537.6,788.9 1539.3,790.5 1540.9,790.7 1542.2,790.1 1543.5,788.1 1544.7,785.8 1546.1,783.8 1547.6,782.6 1549.4,782.4 1551.5,783.0 1553.6,783.9 1555.7,785.0 1557.7,786.0 1559.9,787.2 1562.0,788.5 1564.1,789.9 1566.1,791.0 1568.4,791.8 1570.7,792.5 1572.8,793.6 1574.3,795.0 1575.7,796.8 1577.1,798.9 1578.3,800.9 1579.5,802.8 1580.6,804.6 1581.7,806.4 1582.7,808.1 1583.7,809.9 1584.7,811.8 1585.5,813.9 1586.6,815.7 1587.9,817.0 1589.7,817.5 1591.9,817.7 1594.2,817.3 1596.3,817.1 1598.2,816.3 1599.9,815.4 1601.7,814.3 1603.4,813.2 1605.2,812.1 1607.1,810.7 1608.8,809.9 1610.5,809.3 1612.2,810.5 1613.7,812.4 1615.1,814.8 1616.4,817.0 1617.4,819.0 1618.2,821.1 1619.0,823.3 1619.8,825.4"/>
<path d="M187.4,70.6 V1137.4 H1620.0" fill="none" stroke="#000" stroke-width="4.7" stroke-linejoin="round" stroke-linecap="round"/>
<path d="M187.4,1137.4 V1157 M289.7,1137.4 V1147.2 M392.1,1137.4 V1157 M494.4,1137.4 V1147.2 M596.7,1137.4 V1157 M699.0,1137.4 V1147.2 M801.4,1137.4 V1157 M903.7,1137.4 V1147.2 M1006.0,1137.4 V1157 M1108.4,1137.4 V1147.2 M1210.7,1137.4 V1157 M1313.0,1137.4 V1147.2 M1415.3,1137.4 V1157 M1517.7,1137.4 V1147.2 M1620.0,1137.4 V1157" fill="none" stroke="#000" stroke-width="4.4" stroke-linecap="round"/>
<g transform="translate(187.4,1221.6) scale(0.99,1)"><text x="-72.93" y="0" font-family="Liberation Sans, Arial, sans-serif" font-size="65.3" stroke="#000" stroke-width="0.8">4000</text></g>
<g transform="translate(392.1,1221.6) scale(0.99,1)"><text x="-72.93" y="0" font-family="Liberation Sans, Arial, sans-serif" font-size="65.3" stroke="#000" stroke-width="0.8">3500</text></g>
<g transform="translate(596.7,1221.6) scale(0.99,1)"><text x="-72.93" y="0" font-family="Liberation Sans, Arial, sans-serif" font-size="65.3" stroke="#000" stroke-width="0.8">3000</text></g>
<g transform="translate(801.4,1221.6) scale(0.99,1)"><text x="-72.93" y="0" font-family="Liberation Sans, Arial, sans-serif" font-size="65.3" stroke="#000" stroke-width="0.8">2500</text></g>
<g transform="translate(1006.0,1221.6) scale(0.99,1)"><text x="-72.93" y="0" font-family="Liberation Sans, Arial, sans-serif" font-size="65.3" stroke="#000" stroke-width="0.8">2000</text></g>
<g transform="translate(1210.7,1221.6) scale(0.99,1)"><text x="-72.93" y="0" font-family="Liberation Sans, Arial, sans-serif" font-size="65.3" stroke="#000" stroke-width="0.8"><tspan dx="2.0">1</tspan><tspan dx="-2.0">5</tspan>00</text><rect x="-67.46" y="-6.08" width="12.55" height="7.88" fill="#fff"/><rect x="-48.34" y="-6.08" width="12.04" height="7.88" fill="#fff"/></g>
<g transform="translate(1415.3,1221.6) scale(0.99,1)"><text x="-72.93" y="0" font-family="Liberation Sans, Arial, sans-serif" font-size="65.3" stroke="#000" stroke-width="0.8"><tspan dx="2.0">1</tspan><tspan dx="-2.0">0</tspan>00</text><rect x="-67.46" y="-6.08" width="12.55" height="7.88" fill="#fff"/><rect x="-48.34" y="-6.08" width="12.04" height="7.88" fill="#fff"/></g>
<g transform="translate(1620.0,1221.6) scale(0.99,1)"><text x="-54.78" y="0" font-family="Liberation Sans, Arial, sans-serif" font-size="65.3" stroke="#000" stroke-width="0.8">500</text></g>
<text x="782.9" y="73.5" font-family="Liberation Serif, Times New Roman, serif" font-size="81" letter-spacing="1.9">(a)</text>
<text x="786" y="217.2" font-family="Liberation Serif, Times New Roman, serif" font-size="81" letter-spacing="2.5">(b)</text>
<text x="779" y="350.1" font-family="Liberation Serif, Times New Roman, serif" font-size="81" letter-spacing="2.3">(c)</text>
<text x="790.5" y="743.4" font-family="Liberation Serif, Times New Roman, serif" font-size="81" letter-spacing="1.6">(d)</text>
<text transform="translate(1472,712.3) scale(1,1.03)" font-family="Liberation Serif, Times New Roman, serif" font-size="64">Si-O</text>
<text transform="translate(1102,761.3) scale(1,1.035)" font-family="Liberation Serif, Times New Roman, serif" font-size="64">Si-O-Si</text>
<text transform="translate(1428.7,1004.6) scale(1,1.025)" font-family="Liberation Serif, Times New Roman, serif" font-size="64">Si-C</text>
<text x="567" y="884.9" font-family="Liberation Serif, Times New Roman, serif" font-size="64">-CH<tspan dy="20.5">3</tspan></text>
<text x="1164" y="955" font-family="Liberation Serif, Times New Roman, serif" font-size="64">-CH<tspan dy="20.5">3</tspan></text>
<line x1="1293.6" y1="773.6" x2="1345" y2="798" stroke="#000" stroke-width="2"/>
<polygon points="1367.5,808.7 1340,803 1345.7,790.7" fill="#000"/>
<text transform="translate(82.7,845.7) rotate(-90) scale(0.9786,1)" font-family="Liberation Serif, Times New Roman, serif" font-size="85">Transmittance</text>
<text transform="translate(582.6,1341.2) scale(0.979,1)" x="0" y="0" font-family="Liberation Serif, Times New Roman, serif" font-size="84.7">Wavenumber/cm</text>
<text transform="translate(1157.6,1315) scale(0.92,1)" x="-3.2" y="0" font-family="Liberation Serif, Times New Roman, serif" font-size="85">-</text>
<text transform="translate(1192.7,1312.9) scale(0.72,1)" x="-7.5" y="0" font-family="Liberation Serif, Times New Roman, serif" font-size="85">1</text>
</svg>
</body></html>
